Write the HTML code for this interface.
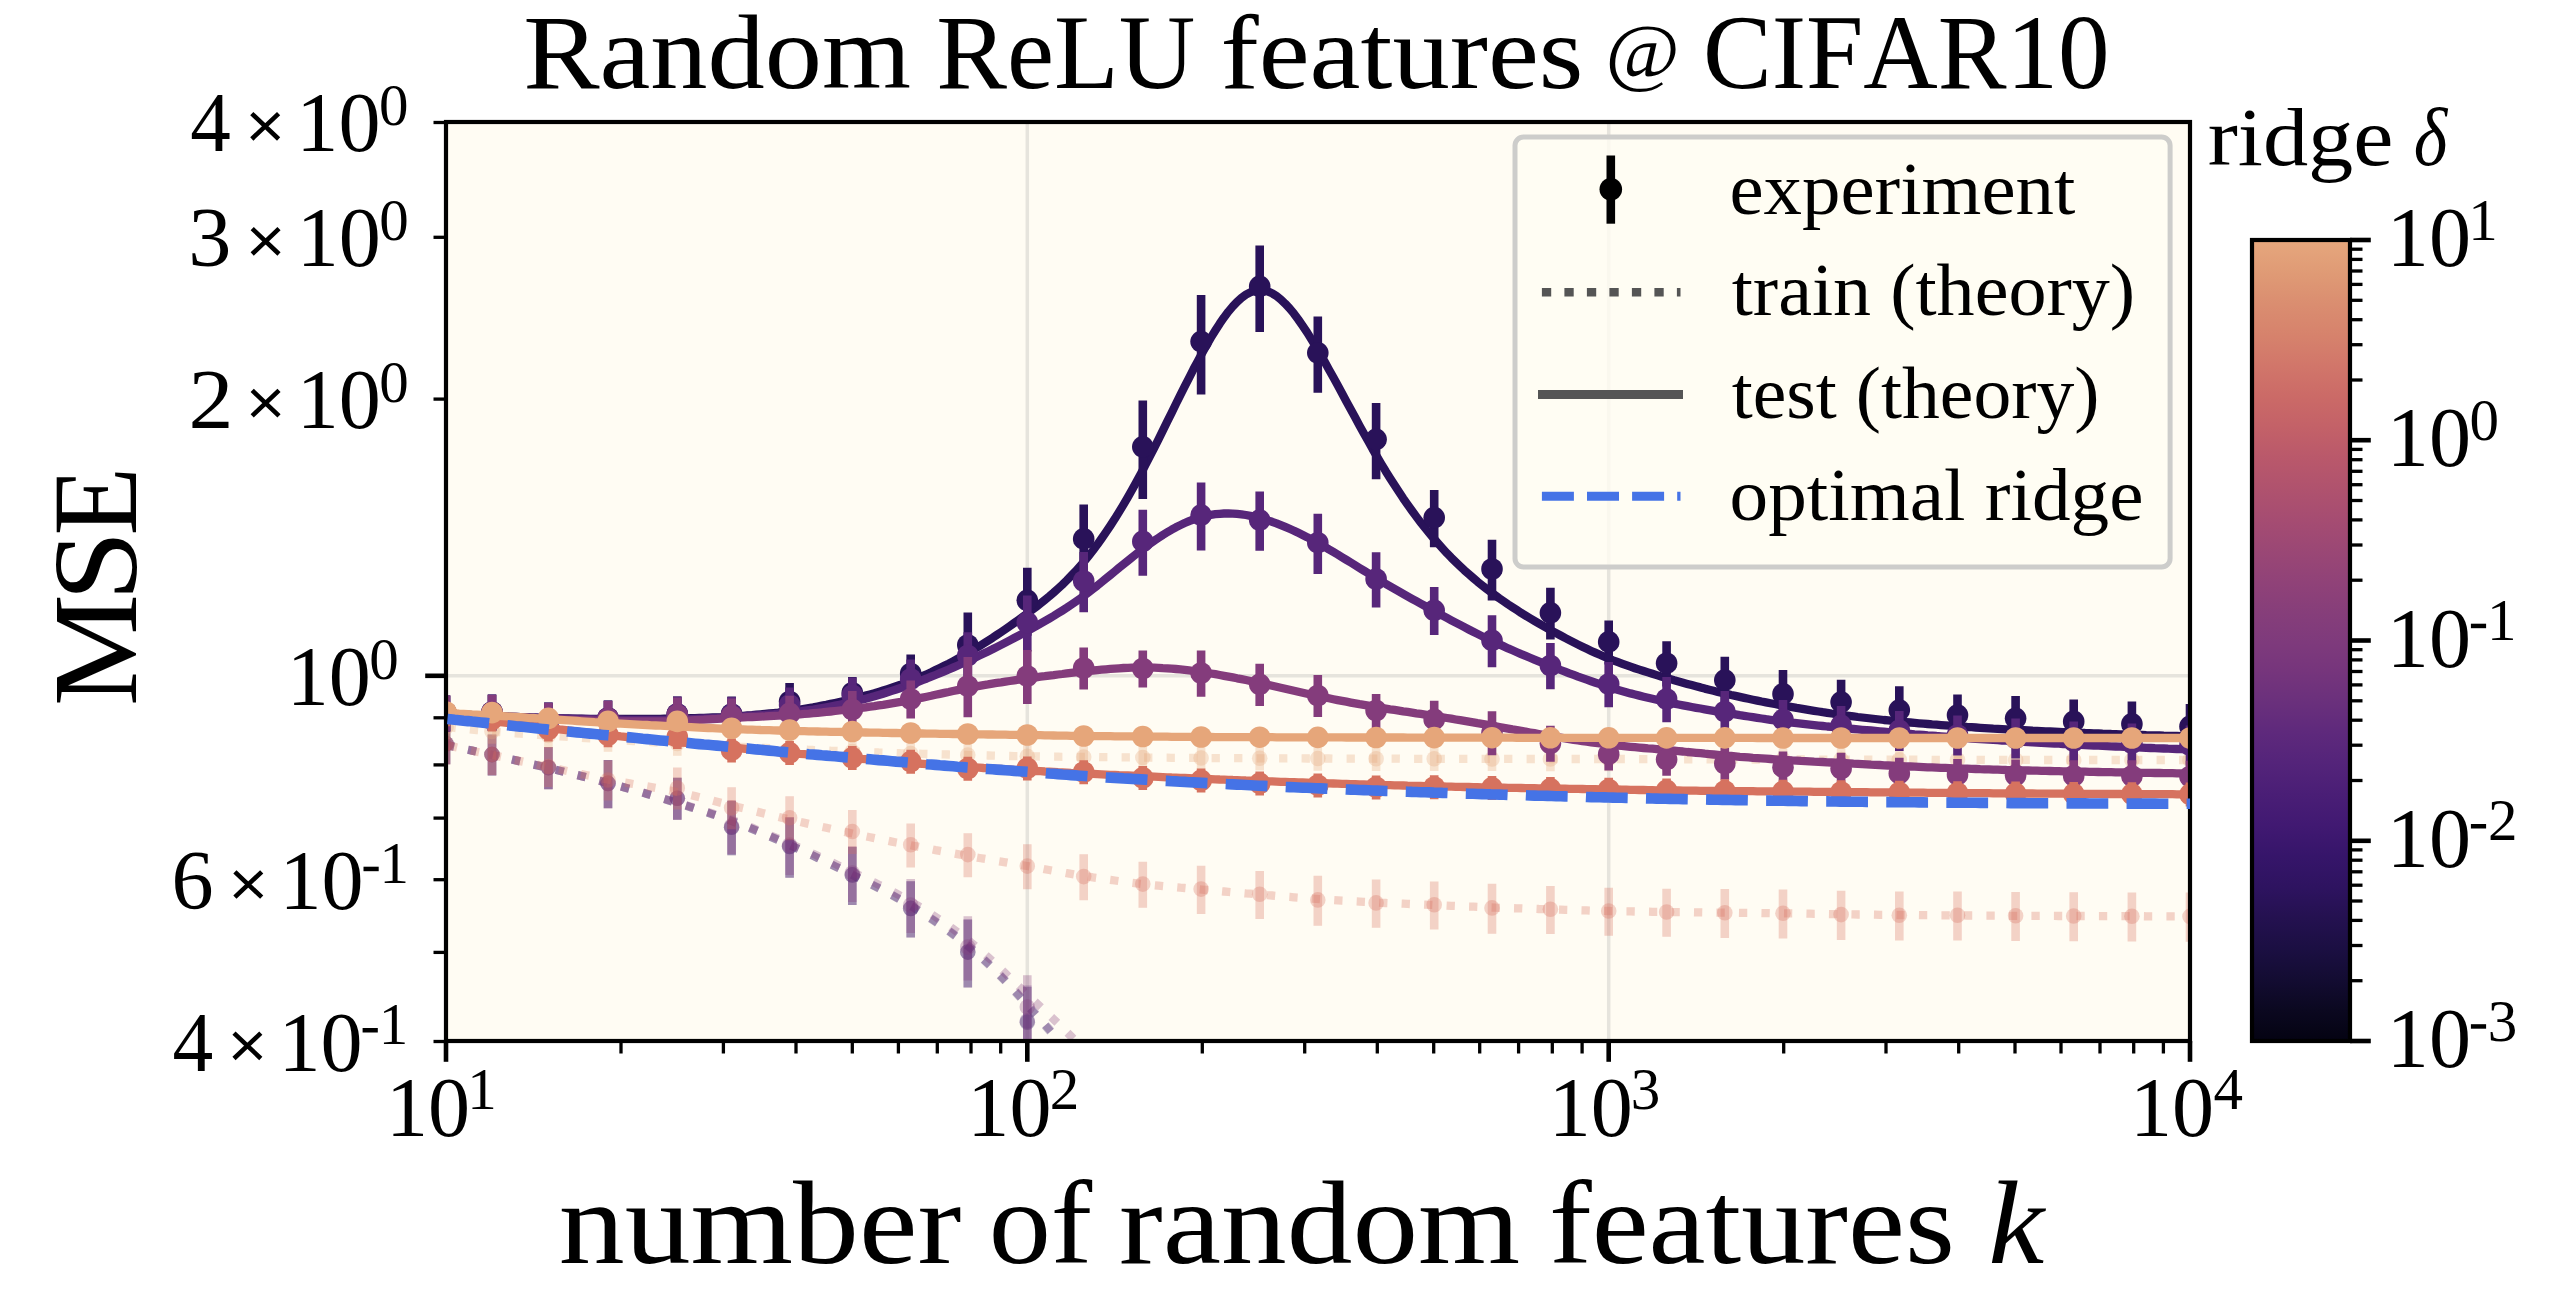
<!DOCTYPE html>
<html><head><meta charset="utf-8"><title>Random ReLU features @ CIFAR10</title>
<style>html,body{margin:0;padding:0;background:#fff}svg{display:block}</style></head>
<body>
<svg width="2554" height="1296" viewBox="0 0 2554 1296" font-family="'Liberation Serif', serif" fill="#000" style="font-kerning:none">
<defs>
<clipPath id="ax"><rect x="446.0" y="122.0" width="1744.0" height="919.0"/></clipPath>
<linearGradient id="cb" x1="0" y1="0" x2="0" y2="1">
<stop offset="0.0000" stop-color="#e6a77d"/>
<stop offset="0.0424" stop-color="#df9a75"/>
<stop offset="0.0811" stop-color="#da8d70"/>
<stop offset="0.1199" stop-color="#d6826c"/>
<stop offset="0.1573" stop-color="#d1766a"/>
<stop offset="0.1960" stop-color="#cb6a67"/>
<stop offset="0.2347" stop-color="#c36168"/>
<stop offset="0.2734" stop-color="#b9586b"/>
<stop offset="0.3121" stop-color="#af526e"/>
<stop offset="0.3508" stop-color="#a54c72"/>
<stop offset="0.3895" stop-color="#9a4775"/>
<stop offset="0.4270" stop-color="#904278"/>
<stop offset="0.4657" stop-color="#863e7a"/>
<stop offset="0.5031" stop-color="#7e3a7c"/>
<stop offset="0.5381" stop-color="#76357c"/>
<stop offset="0.5768" stop-color="#6a307c"/>
<stop offset="0.6155" stop-color="#5e297c"/>
<stop offset="0.6529" stop-color="#54247a"/>
<stop offset="0.6916" stop-color="#4a1e76"/>
<stop offset="0.7303" stop-color="#411972"/>
<stop offset="0.7690" stop-color="#36156a"/>
<stop offset="0.8077" stop-color="#2e1360"/>
<stop offset="0.8464" stop-color="#241150"/>
<stop offset="0.8851" stop-color="#1b0f42"/>
<stop offset="0.9238" stop-color="#130c32"/>
<stop offset="0.9613" stop-color="#0b0820"/>
<stop offset="1.0000" stop-color="#040312"/>
</linearGradient>
</defs>
<rect width="2554" height="1296" fill="#fff"/>
<rect x="446.0" y="122.0" width="1744.0" height="919.0" fill="#fffcf3"/>
<line x1="1027.3" x2="1027.3" y1="122.0" y2="1041.0" stroke="#e6e4dd" stroke-width="3.5"/>
<line x1="1608.7" x2="1608.7" y1="122.0" y2="1041.0" stroke="#e6e4dd" stroke-width="3.5"/>
<line x1="446.0" x2="2190.0" y1="675.8" y2="675.8" stroke="#e6e4dd" stroke-width="3.5"/>
<g clip-path="url(#ax)">
<g>
<path d="M446.0,745.0 L450.4,745.9 L454.7,746.9 L459.1,747.8 L463.5,748.7 L467.9,749.7 L472.2,750.6 L476.6,751.6 L481.0,752.5 L485.3,753.5 L489.7,754.5 L494.1,755.5 L498.5,756.4 L502.8,757.4 L507.2,758.4 L511.6,759.4 L515.9,760.4 L520.3,761.4 L524.7,762.4 L529.0,763.4 L533.4,764.5 L537.8,765.5 L542.2,766.5 L546.5,767.6 L550.9,768.6 L555.3,769.7 L559.6,770.7 L564.0,771.8 L568.4,772.9 L572.8,773.9 L577.1,775.0 L581.5,776.1 L585.9,777.2 L590.2,778.3 L594.6,779.5 L599.0,780.6 L603.4,781.7 L607.7,782.9 L612.1,784.1 L616.5,785.3 L620.8,786.5 L625.2,787.7 L629.6,788.9 L633.9,790.1 L638.3,791.4 L642.7,792.6 L647.1,793.9 L651.4,795.2 L655.8,796.5 L660.2,797.8 L664.5,799.1 L668.9,800.4 L673.3,801.8 L677.7,803.1 L682.0,804.5 L686.4,805.8 L690.8,807.2 L695.1,808.6 L699.5,810.0 L703.9,811.4 L708.3,812.8 L712.6,814.3 L717.0,815.8 L721.4,817.3 L725.7,818.9 L730.1,820.4 L734.5,822.1 L738.9,823.7 L743.2,825.4 L747.6,827.1 L752.0,828.9 L756.3,830.7 L760.7,832.5 L765.1,834.3 L769.4,836.2 L773.8,838.1 L778.2,840.0 L782.6,841.9 L786.9,843.8 L791.3,845.8 L795.7,847.7 L800.0,849.7 L804.4,851.7 L808.8,853.7 L813.2,855.8 L817.5,857.9 L821.9,860.0 L826.3,862.1 L830.6,864.2 L835.0,866.4 L839.4,868.5 L843.8,870.7 L848.1,872.9 L852.5,875.1 L856.9,877.3 L861.2,879.5 L865.6,881.7 L870.0,883.9 L874.4,886.1 L878.7,888.3 L883.1,890.6 L887.5,892.9 L891.8,895.2 L896.2,897.6 L900.6,900.1 L904.9,902.6 L909.3,905.2 L913.7,907.8 L918.1,910.5 L922.4,913.3 L926.8,916.1 L931.2,919.0 L935.5,921.9 L939.9,924.9 L944.3,928.0 L948.7,931.1 L953.0,934.4 L957.4,937.7 L961.8,941.1 L966.1,944.6 L970.5,948.2 L974.9,952.0 L979.3,955.8 L983.6,959.8 L988.0,963.9 L992.4,968.1 L996.7,972.4 L1001.1,976.9 L1005.5,981.4 L1009.8,986.0 L1014.2,990.8 L1018.6,995.6 L1023.0,1000.5 L1027.3,1005.5 L1031.7,1010.5 L1036.1,1015.4 L1040.4,1020.3 L1044.8,1025.2 L1049.2,1030.3 L1053.6,1035.5 L1057.9,1041.0 L1062.3,1046.9 L1066.7,1053.1 L1071.0,1059.7 L1075.4,1066.9 L1079.8,1074.6 L1084.2,1083.0 L1088.5,1093.0 L1092.9,1104.9 L1097.3,1118.7 L1101.6,1133.8 L1106.0,1150.2 L1110.4,1167.6 L1114.8,1185.6 L1119.1,1204.1 L1123.5,1222.7 L1127.9,1241.1 L1132.2,1259.3 L1136.6,1276.8 L1141.0,1293.3 L1145.3,1309.3 L1149.7,1326.8 L1154.1,1345.6 L1158.5,1365.3 L1162.8,1385.3 L1167.2,1405.1 L1171.6,1424.3 L1175.9,1442.4 L1180.3,1458.9 L1184.7,1473.2 L1189.1,1485.0 L1193.4,1493.7 L1197.8,1498.8 L1202.2,1500.0 L1206.5,1500.0 L1210.9,1500.0 L1215.3,1500.0 L1219.7,1500.0 L1224.0,1500.0 L1228.4,1500.0 L1232.8,1500.0 L1237.1,1500.0 L1241.5,1500.0 L1245.9,1500.0 L1250.3,1500.0 L1254.6,1500.0 L1259.0,1500.0 L1263.4,1500.0 L1267.7,1500.0 L1272.1,1500.0 L1276.5,1500.0 L1280.8,1500.0 L1285.2,1500.0 L1289.6,1500.0 L1294.0,1500.0 L1298.3,1500.0 L1302.7,1500.0 L1307.1,1500.0 L1311.4,1500.0 L1315.8,1500.0 L1320.2,1500.0 L1324.6,1500.0 L1328.9,1500.0 L1333.3,1500.0 L1337.7,1500.0 L1342.0,1500.0 L1346.4,1500.0 L1350.8,1500.0 L1355.2,1500.0 L1359.5,1500.0 L1363.9,1500.0 L1368.3,1500.0 L1372.6,1500.0 L1377.0,1500.0 L1381.4,1500.0 L1385.7,1500.0 L1390.1,1500.0 L1394.5,1500.0 L1398.9,1500.0 L1403.2,1500.0 L1407.6,1500.0 L1412.0,1500.0 L1416.3,1500.0 L1420.7,1500.0 L1425.1,1500.0 L1429.5,1500.0 L1433.8,1500.0 L1438.2,1500.0 L1442.6,1500.0 L1446.9,1500.0 L1451.3,1500.0 L1455.7,1500.0 L1460.1,1500.0 L1464.4,1500.0 L1468.8,1500.0 L1473.2,1500.0 L1477.5,1500.0 L1481.9,1500.0 L1486.3,1500.0 L1490.7,1500.0 L1495.0,1500.0 L1499.4,1500.0 L1503.8,1500.0 L1508.1,1500.0 L1512.5,1500.0 L1516.9,1500.0 L1521.2,1500.0 L1525.6,1500.0 L1530.0,1500.0 L1534.4,1500.0 L1538.7,1500.0 L1543.1,1500.0 L1547.5,1500.0 L1551.8,1500.0 L1556.2,1500.0 L1560.6,1500.0 L1565.0,1500.0 L1569.3,1500.0 L1573.7,1500.0 L1578.1,1500.0 L1582.4,1500.0 L1586.8,1500.0 L1591.2,1500.0 L1595.6,1500.0 L1599.9,1500.0 L1604.3,1500.0 L1608.7,1500.0 L1613.0,1500.0 L1617.4,1500.0 L1621.8,1500.0 L1626.2,1500.0 L1630.5,1500.0 L1634.9,1500.0 L1639.3,1500.0 L1643.6,1500.0 L1648.0,1500.0 L1652.4,1500.0 L1656.7,1500.0 L1661.1,1500.0 L1665.5,1500.0 L1669.9,1500.0 L1674.2,1500.0 L1678.6,1500.0 L1683.0,1500.0 L1687.3,1500.0 L1691.7,1500.0 L1696.1,1500.0 L1700.5,1500.0 L1704.8,1500.0 L1709.2,1500.0 L1713.6,1500.0 L1717.9,1500.0 L1722.3,1500.0 L1726.7,1500.0 L1731.1,1500.0 L1735.4,1500.0 L1739.8,1500.0 L1744.2,1500.0 L1748.5,1500.0 L1752.9,1500.0 L1757.3,1500.0 L1761.6,1500.0 L1766.0,1500.0 L1770.4,1500.0 L1774.8,1500.0 L1779.1,1500.0 L1783.5,1500.0 L1787.9,1500.0 L1792.2,1500.0 L1796.6,1500.0 L1801.0,1500.0 L1805.4,1500.0 L1809.7,1500.0 L1814.1,1500.0 L1818.5,1500.0 L1822.8,1500.0 L1827.2,1500.0 L1831.6,1500.0 L1836.0,1500.0 L1840.3,1500.0 L1844.7,1500.0 L1849.1,1500.0 L1853.4,1500.0 L1857.8,1500.0 L1862.2,1500.0 L1866.6,1500.0 L1870.9,1500.0 L1875.3,1500.0 L1879.7,1500.0 L1884.0,1500.0 L1888.4,1500.0 L1892.8,1500.0 L1897.1,1500.0 L1901.5,1500.0 L1905.9,1500.0 L1910.3,1500.0 L1914.6,1500.0 L1919.0,1500.0 L1923.4,1500.0 L1927.7,1500.0 L1932.1,1500.0 L1936.5,1500.0 L1940.9,1500.0 L1945.2,1500.0 L1949.6,1500.0 L1954.0,1500.0 L1958.3,1500.0 L1962.7,1500.0 L1967.1,1500.0 L1971.5,1500.0 L1975.8,1500.0 L1980.2,1500.0 L1984.6,1500.0 L1988.9,1500.0 L1993.3,1500.0 L1997.7,1500.0 L2002.1,1500.0 L2006.4,1500.0 L2010.8,1500.0 L2015.2,1500.0 L2019.5,1500.0 L2023.9,1500.0 L2028.3,1500.0 L2032.6,1500.0 L2037.0,1500.0 L2041.4,1500.0 L2045.8,1500.0 L2050.1,1500.0 L2054.5,1500.0 L2058.9,1500.0 L2063.2,1500.0 L2067.6,1500.0 L2072.0,1500.0 L2076.4,1500.0 L2080.7,1500.0 L2085.1,1500.0 L2089.5,1500.0 L2093.8,1500.0 L2098.2,1500.0 L2102.6,1500.0 L2107.0,1500.0 L2111.3,1500.0 L2115.7,1500.0 L2120.1,1500.0 L2124.4,1500.0 L2128.8,1500.0 L2133.2,1500.0 L2137.5,1500.0 L2141.9,1500.0 L2146.3,1500.0 L2150.7,1500.0 L2155.0,1500.0 L2159.4,1500.0 L2163.8,1500.0 L2168.1,1500.0 L2172.5,1500.0 L2176.9,1500.0 L2181.3,1500.0 L2185.6,1500.0 L2190.0,1500.0" fill="none" stroke="#291259" stroke-width="8.3" stroke-dasharray="8.3 14.2" stroke-dashoffset="0" stroke-opacity="0.3" stroke-linejoin="round"/>
<path d="M446.0,724.3V764.3 M492.0,734.6V775.6 M548.4,747.1V789.2 M608.0,760.1V808.2 M677.3,777.7V819.8 M731.6,801.1V855.2 M789.6,817.6V877.7 M852.3,846.9V905.0 M910.7,881.3V937.4 M967.8,919.5V987.6 M1027.3,986.9V1061.1 M1083.7,1091.9V1172.1 M1142.8,1261.9V1342.1 M1201.1,1461.9V1542.1 M1259.7,1461.9V1542.1 M1317.8,1461.9V1542.1 M1376.1,1461.9V1542.1 M1434.2,1461.9V1542.1 M1492.0,1461.9V1542.1 M1550.4,1461.9V1542.1 M1608.7,1461.9V1542.1 M1666.6,1461.9V1542.1 M1724.8,1461.9V1542.1 M1783.0,1461.9V1542.1 M1841.1,1461.9V1542.1 M1899.3,1461.9V1542.1 M1957.5,1461.9V1542.1 M2015.6,1461.9V1542.1 M2073.7,1461.9V1542.1 M2131.9,1461.9V1542.1 M2190.0,1461.9V1542.1" fill="none" stroke="#291259" stroke-width="8.6" stroke-opacity="0.3"/>
<circle cx="446.0" cy="743.8" r="7.8" fill="#291259" fill-opacity="0.3"/>
<circle cx="492.0" cy="754.6" r="7.8" fill="#291259" fill-opacity="0.3"/>
<circle cx="548.4" cy="767.6" r="7.8" fill="#291259" fill-opacity="0.3"/>
<circle cx="608.0" cy="783.4" r="7.8" fill="#291259" fill-opacity="0.3"/>
<circle cx="677.3" cy="798.2" r="7.8" fill="#291259" fill-opacity="0.3"/>
<circle cx="731.6" cy="827.2" r="7.8" fill="#291259" fill-opacity="0.3"/>
<circle cx="789.6" cy="846.5" r="7.8" fill="#291259" fill-opacity="0.3"/>
<circle cx="852.3" cy="874.9" r="7.8" fill="#291259" fill-opacity="0.3"/>
<circle cx="910.7" cy="908.4" r="7.8" fill="#291259" fill-opacity="0.3"/>
<circle cx="967.8" cy="952.1" r="7.8" fill="#291259" fill-opacity="0.3"/>
<circle cx="1027.3" cy="1022.3" r="7.8" fill="#291259" fill-opacity="0.3"/>
<circle cx="1083.7" cy="1130.0" r="7.8" fill="#291259" fill-opacity="0.3"/>
<circle cx="1142.8" cy="1300.0" r="7.8" fill="#291259" fill-opacity="0.3"/>
<circle cx="1201.1" cy="1500.0" r="7.8" fill="#291259" fill-opacity="0.3"/>
<circle cx="1259.7" cy="1500.0" r="7.8" fill="#291259" fill-opacity="0.3"/>
<circle cx="1317.8" cy="1500.0" r="7.8" fill="#291259" fill-opacity="0.3"/>
<circle cx="1376.1" cy="1500.0" r="7.8" fill="#291259" fill-opacity="0.3"/>
<circle cx="1434.2" cy="1500.0" r="7.8" fill="#291259" fill-opacity="0.3"/>
<circle cx="1492.0" cy="1500.0" r="7.8" fill="#291259" fill-opacity="0.3"/>
<circle cx="1550.4" cy="1500.0" r="7.8" fill="#291259" fill-opacity="0.3"/>
<circle cx="1608.7" cy="1500.0" r="7.8" fill="#291259" fill-opacity="0.3"/>
<circle cx="1666.6" cy="1500.0" r="7.8" fill="#291259" fill-opacity="0.3"/>
<circle cx="1724.8" cy="1500.0" r="7.8" fill="#291259" fill-opacity="0.3"/>
<circle cx="1783.0" cy="1500.0" r="7.8" fill="#291259" fill-opacity="0.3"/>
<circle cx="1841.1" cy="1500.0" r="7.8" fill="#291259" fill-opacity="0.3"/>
<circle cx="1899.3" cy="1500.0" r="7.8" fill="#291259" fill-opacity="0.3"/>
<circle cx="1957.5" cy="1500.0" r="7.8" fill="#291259" fill-opacity="0.3"/>
<circle cx="2015.6" cy="1500.0" r="7.8" fill="#291259" fill-opacity="0.3"/>
<circle cx="2073.7" cy="1500.0" r="7.8" fill="#291259" fill-opacity="0.3"/>
<circle cx="2131.9" cy="1500.0" r="7.8" fill="#291259" fill-opacity="0.3"/>
<circle cx="2190.0" cy="1500.0" r="7.8" fill="#291259" fill-opacity="0.3"/>
</g>
<g>
<path d="M446.0,745.0 L450.4,745.9 L454.7,746.9 L459.1,747.8 L463.5,748.7 L467.9,749.7 L472.2,750.6 L476.6,751.6 L481.0,752.5 L485.3,753.5 L489.7,754.5 L494.1,755.5 L498.5,756.4 L502.8,757.4 L507.2,758.4 L511.6,759.4 L515.9,760.4 L520.3,761.4 L524.7,762.4 L529.0,763.4 L533.4,764.5 L537.8,765.5 L542.2,766.5 L546.5,767.6 L550.9,768.6 L555.3,769.7 L559.6,770.7 L564.0,771.8 L568.4,772.9 L572.8,773.9 L577.1,775.0 L581.5,776.1 L585.9,777.2 L590.2,778.3 L594.6,779.5 L599.0,780.6 L603.4,781.7 L607.7,782.9 L612.1,784.1 L616.5,785.3 L620.8,786.5 L625.2,787.7 L629.6,788.9 L633.9,790.1 L638.3,791.4 L642.7,792.6 L647.1,793.9 L651.4,795.2 L655.8,796.5 L660.2,797.8 L664.5,799.1 L668.9,800.4 L673.3,801.8 L677.7,803.1 L682.0,804.5 L686.4,805.8 L690.8,807.2 L695.1,808.6 L699.5,810.0 L703.9,811.4 L708.3,812.8 L712.6,814.3 L717.0,815.8 L721.4,817.3 L725.7,818.9 L730.1,820.4 L734.5,822.1 L738.9,823.7 L743.2,825.4 L747.6,827.1 L752.0,828.9 L756.3,830.7 L760.7,832.5 L765.1,834.3 L769.4,836.2 L773.8,838.1 L778.2,840.0 L782.6,841.9 L786.9,843.8 L791.3,845.8 L795.7,847.7 L800.0,849.7 L804.4,851.7 L808.8,853.7 L813.2,855.7 L817.5,857.8 L821.9,859.8 L826.3,861.9 L830.6,864.0 L835.0,866.2 L839.4,868.3 L843.8,870.4 L848.1,872.6 L852.5,874.8 L856.9,877.0 L861.2,879.1 L865.6,881.3 L870.0,883.5 L874.4,885.7 L878.7,887.9 L883.1,890.2 L887.5,892.5 L891.8,894.8 L896.2,897.2 L900.6,899.6 L904.9,902.1 L909.3,904.7 L913.7,907.3 L918.1,910.0 L922.4,912.7 L926.8,915.5 L931.2,918.4 L935.5,921.3 L939.9,924.3 L944.3,927.4 L948.7,930.5 L953.0,933.7 L957.4,937.0 L961.8,940.4 L966.1,943.9 L970.5,947.5 L974.9,951.2 L979.3,955.1 L983.6,959.1 L988.0,963.1 L992.4,967.3 L996.7,971.6 L1001.1,976.1 L1005.5,980.6 L1009.8,985.2 L1014.2,989.9 L1018.6,994.7 L1023.0,999.5 L1027.3,1004.5 L1031.7,1009.4 L1036.1,1014.3 L1040.4,1019.2 L1044.8,1024.1 L1049.2,1029.1 L1053.6,1034.3 L1057.9,1039.7 L1062.3,1045.4 L1066.7,1051.6 L1071.0,1058.1 L1075.4,1065.1 L1079.8,1072.7 L1084.2,1081.0 L1088.5,1090.6 L1092.9,1102.1 L1097.3,1115.2 L1101.6,1129.7 L1106.0,1145.2 L1110.4,1161.7 L1114.8,1178.9 L1119.1,1196.5 L1123.5,1214.3 L1127.9,1232.1 L1132.2,1249.7 L1136.6,1266.9 L1141.0,1283.3 L1145.3,1299.4 L1149.7,1317.3 L1154.1,1336.8 L1158.5,1357.2 L1162.8,1378.2 L1167.2,1399.1 L1171.6,1419.4 L1175.9,1438.6 L1180.3,1456.1 L1184.7,1471.4 L1189.1,1483.9 L1193.4,1493.2 L1197.8,1498.7 L1202.2,1500.0 L1206.5,1500.0 L1210.9,1500.0 L1215.3,1500.0 L1219.7,1500.0 L1224.0,1500.0 L1228.4,1500.0 L1232.8,1500.0 L1237.1,1500.0 L1241.5,1500.0 L1245.9,1500.0 L1250.3,1500.0 L1254.6,1500.0 L1259.0,1500.0 L1263.4,1500.0 L1267.7,1500.0 L1272.1,1500.0 L1276.5,1500.0 L1280.8,1500.0 L1285.2,1500.0 L1289.6,1500.0 L1294.0,1500.0 L1298.3,1500.0 L1302.7,1500.0 L1307.1,1500.0 L1311.4,1500.0 L1315.8,1500.0 L1320.2,1500.0 L1324.6,1500.0 L1328.9,1500.0 L1333.3,1500.0 L1337.7,1500.0 L1342.0,1500.0 L1346.4,1500.0 L1350.8,1500.0 L1355.2,1500.0 L1359.5,1500.0 L1363.9,1500.0 L1368.3,1500.0 L1372.6,1500.0 L1377.0,1500.0 L1381.4,1500.0 L1385.7,1500.0 L1390.1,1500.0 L1394.5,1500.0 L1398.9,1500.0 L1403.2,1500.0 L1407.6,1500.0 L1412.0,1500.0 L1416.3,1500.0 L1420.7,1500.0 L1425.1,1500.0 L1429.5,1500.0 L1433.8,1500.0 L1438.2,1500.0 L1442.6,1500.0 L1446.9,1500.0 L1451.3,1500.0 L1455.7,1500.0 L1460.1,1500.0 L1464.4,1500.0 L1468.8,1500.0 L1473.2,1500.0 L1477.5,1500.0 L1481.9,1500.0 L1486.3,1500.0 L1490.7,1500.0 L1495.0,1500.0 L1499.4,1500.0 L1503.8,1500.0 L1508.1,1500.0 L1512.5,1500.0 L1516.9,1500.0 L1521.2,1500.0 L1525.6,1500.0 L1530.0,1500.0 L1534.4,1500.0 L1538.7,1500.0 L1543.1,1500.0 L1547.5,1500.0 L1551.8,1500.0 L1556.2,1500.0 L1560.6,1500.0 L1565.0,1500.0 L1569.3,1500.0 L1573.7,1500.0 L1578.1,1500.0 L1582.4,1500.0 L1586.8,1500.0 L1591.2,1500.0 L1595.6,1500.0 L1599.9,1500.0 L1604.3,1500.0 L1608.7,1500.0 L1613.0,1500.0 L1617.4,1500.0 L1621.8,1500.0 L1626.2,1500.0 L1630.5,1500.0 L1634.9,1500.0 L1639.3,1500.0 L1643.6,1500.0 L1648.0,1500.0 L1652.4,1500.0 L1656.7,1500.0 L1661.1,1500.0 L1665.5,1500.0 L1669.9,1500.0 L1674.2,1500.0 L1678.6,1500.0 L1683.0,1500.0 L1687.3,1500.0 L1691.7,1500.0 L1696.1,1500.0 L1700.5,1500.0 L1704.8,1500.0 L1709.2,1500.0 L1713.6,1500.0 L1717.9,1500.0 L1722.3,1500.0 L1726.7,1500.0 L1731.1,1500.0 L1735.4,1500.0 L1739.8,1500.0 L1744.2,1500.0 L1748.5,1500.0 L1752.9,1500.0 L1757.3,1500.0 L1761.6,1500.0 L1766.0,1500.0 L1770.4,1500.0 L1774.8,1500.0 L1779.1,1500.0 L1783.5,1500.0 L1787.9,1500.0 L1792.2,1500.0 L1796.6,1500.0 L1801.0,1500.0 L1805.4,1500.0 L1809.7,1500.0 L1814.1,1500.0 L1818.5,1500.0 L1822.8,1500.0 L1827.2,1500.0 L1831.6,1500.0 L1836.0,1500.0 L1840.3,1500.0 L1844.7,1500.0 L1849.1,1500.0 L1853.4,1500.0 L1857.8,1500.0 L1862.2,1500.0 L1866.6,1500.0 L1870.9,1500.0 L1875.3,1500.0 L1879.7,1500.0 L1884.0,1500.0 L1888.4,1500.0 L1892.8,1500.0 L1897.1,1500.0 L1901.5,1500.0 L1905.9,1500.0 L1910.3,1500.0 L1914.6,1500.0 L1919.0,1500.0 L1923.4,1500.0 L1927.7,1500.0 L1932.1,1500.0 L1936.5,1500.0 L1940.9,1500.0 L1945.2,1500.0 L1949.6,1500.0 L1954.0,1500.0 L1958.3,1500.0 L1962.7,1500.0 L1967.1,1500.0 L1971.5,1500.0 L1975.8,1500.0 L1980.2,1500.0 L1984.6,1500.0 L1988.9,1500.0 L1993.3,1500.0 L1997.7,1500.0 L2002.1,1500.0 L2006.4,1500.0 L2010.8,1500.0 L2015.2,1500.0 L2019.5,1500.0 L2023.9,1500.0 L2028.3,1500.0 L2032.6,1500.0 L2037.0,1500.0 L2041.4,1500.0 L2045.8,1500.0 L2050.1,1500.0 L2054.5,1500.0 L2058.9,1500.0 L2063.2,1500.0 L2067.6,1500.0 L2072.0,1500.0 L2076.4,1500.0 L2080.7,1500.0 L2085.1,1500.0 L2089.5,1500.0 L2093.8,1500.0 L2098.2,1500.0 L2102.6,1500.0 L2107.0,1500.0 L2111.3,1500.0 L2115.7,1500.0 L2120.1,1500.0 L2124.4,1500.0 L2128.8,1500.0 L2133.2,1500.0 L2137.5,1500.0 L2141.9,1500.0 L2146.3,1500.0 L2150.7,1500.0 L2155.0,1500.0 L2159.4,1500.0 L2163.8,1500.0 L2168.1,1500.0 L2172.5,1500.0 L2176.9,1500.0 L2181.3,1500.0 L2185.6,1500.0 L2190.0,1500.0" fill="none" stroke="#57267a" stroke-width="8.3" stroke-dasharray="8.3 14.2" stroke-dashoffset="0" stroke-opacity="0.3" stroke-linejoin="round"/>
<path d="M446.0,724.3V764.3 M492.0,734.6V775.6 M548.4,747.1V789.2 M608.0,760.1V808.2 M677.3,777.7V819.8 M731.6,801.1V855.2 M789.6,817.6V877.7 M852.3,846.9V905.0 M910.7,881.3V937.4 M967.8,919.5V987.6 M1027.3,985.6V1059.8 M1083.7,1076.9V1157.1 M1142.8,1231.9V1312.1 M1201.1,1461.9V1542.1 M1259.7,1461.9V1542.1 M1317.8,1461.9V1542.1 M1376.1,1461.9V1542.1 M1434.2,1461.9V1542.1 M1492.0,1461.9V1542.1 M1550.4,1461.9V1542.1 M1608.7,1461.9V1542.1 M1666.6,1461.9V1542.1 M1724.8,1461.9V1542.1 M1783.0,1461.9V1542.1 M1841.1,1461.9V1542.1 M1899.3,1461.9V1542.1 M1957.5,1461.9V1542.1 M2015.6,1461.9V1542.1 M2073.7,1461.9V1542.1 M2131.9,1461.9V1542.1 M2190.0,1461.9V1542.1" fill="none" stroke="#57267a" stroke-width="8.6" stroke-opacity="0.3"/>
<circle cx="446.0" cy="743.8" r="7.8" fill="#57267a" fill-opacity="0.3"/>
<circle cx="492.0" cy="754.6" r="7.8" fill="#57267a" fill-opacity="0.3"/>
<circle cx="548.4" cy="767.6" r="7.8" fill="#57267a" fill-opacity="0.3"/>
<circle cx="608.0" cy="783.4" r="7.8" fill="#57267a" fill-opacity="0.3"/>
<circle cx="677.3" cy="798.2" r="7.8" fill="#57267a" fill-opacity="0.3"/>
<circle cx="731.6" cy="827.2" r="7.8" fill="#57267a" fill-opacity="0.3"/>
<circle cx="789.6" cy="846.5" r="7.8" fill="#57267a" fill-opacity="0.3"/>
<circle cx="852.3" cy="874.9" r="7.8" fill="#57267a" fill-opacity="0.3"/>
<circle cx="910.7" cy="908.4" r="7.8" fill="#57267a" fill-opacity="0.3"/>
<circle cx="967.8" cy="952.1" r="7.8" fill="#57267a" fill-opacity="0.3"/>
<circle cx="1027.3" cy="1021.0" r="7.8" fill="#57267a" fill-opacity="0.3"/>
<circle cx="1083.7" cy="1115.0" r="7.8" fill="#57267a" fill-opacity="0.3"/>
<circle cx="1142.8" cy="1270.0" r="7.8" fill="#57267a" fill-opacity="0.3"/>
<circle cx="1201.1" cy="1500.0" r="7.8" fill="#57267a" fill-opacity="0.3"/>
<circle cx="1259.7" cy="1500.0" r="7.8" fill="#57267a" fill-opacity="0.3"/>
<circle cx="1317.8" cy="1500.0" r="7.8" fill="#57267a" fill-opacity="0.3"/>
<circle cx="1376.1" cy="1500.0" r="7.8" fill="#57267a" fill-opacity="0.3"/>
<circle cx="1434.2" cy="1500.0" r="7.8" fill="#57267a" fill-opacity="0.3"/>
<circle cx="1492.0" cy="1500.0" r="7.8" fill="#57267a" fill-opacity="0.3"/>
<circle cx="1550.4" cy="1500.0" r="7.8" fill="#57267a" fill-opacity="0.3"/>
<circle cx="1608.7" cy="1500.0" r="7.8" fill="#57267a" fill-opacity="0.3"/>
<circle cx="1666.6" cy="1500.0" r="7.8" fill="#57267a" fill-opacity="0.3"/>
<circle cx="1724.8" cy="1500.0" r="7.8" fill="#57267a" fill-opacity="0.3"/>
<circle cx="1783.0" cy="1500.0" r="7.8" fill="#57267a" fill-opacity="0.3"/>
<circle cx="1841.1" cy="1500.0" r="7.8" fill="#57267a" fill-opacity="0.3"/>
<circle cx="1899.3" cy="1500.0" r="7.8" fill="#57267a" fill-opacity="0.3"/>
<circle cx="1957.5" cy="1500.0" r="7.8" fill="#57267a" fill-opacity="0.3"/>
<circle cx="2015.6" cy="1500.0" r="7.8" fill="#57267a" fill-opacity="0.3"/>
<circle cx="2073.7" cy="1500.0" r="7.8" fill="#57267a" fill-opacity="0.3"/>
<circle cx="2131.9" cy="1500.0" r="7.8" fill="#57267a" fill-opacity="0.3"/>
<circle cx="2190.0" cy="1500.0" r="7.8" fill="#57267a" fill-opacity="0.3"/>
</g>
<g>
<path d="M446.0,745.0 L450.4,745.9 L454.7,746.9 L459.1,747.8 L463.5,748.7 L467.9,749.7 L472.2,750.6 L476.6,751.6 L481.0,752.5 L485.3,753.5 L489.7,754.5 L494.1,755.5 L498.5,756.4 L502.8,757.4 L507.2,758.4 L511.6,759.4 L515.9,760.4 L520.3,761.4 L524.7,762.4 L529.0,763.4 L533.4,764.5 L537.8,765.5 L542.2,766.5 L546.5,767.6 L550.9,768.6 L555.3,769.7 L559.6,770.7 L564.0,771.8 L568.4,772.9 L572.8,774.0 L577.1,775.0 L581.5,776.1 L585.9,777.2 L590.2,778.4 L594.6,779.5 L599.0,780.6 L603.4,781.8 L607.7,782.9 L612.1,784.1 L616.5,785.2 L620.8,786.4 L625.2,787.6 L629.6,788.8 L633.9,790.0 L638.3,791.2 L642.7,792.4 L647.1,793.7 L651.4,794.9 L655.8,796.2 L660.2,797.4 L664.5,798.7 L668.9,800.0 L673.3,801.3 L677.7,802.6 L682.0,803.9 L686.4,805.2 L690.8,806.6 L695.1,807.9 L699.5,809.3 L703.9,810.7 L708.3,812.1 L712.6,813.5 L717.0,814.9 L721.4,816.4 L725.7,817.9 L730.1,819.5 L734.5,821.0 L738.9,822.6 L743.2,824.3 L747.6,826.0 L752.0,827.7 L756.3,829.5 L760.7,831.3 L765.1,833.1 L769.4,834.9 L773.8,836.8 L778.2,838.6 L782.6,840.5 L786.9,842.4 L791.3,844.2 L795.7,846.1 L800.0,848.0 L804.4,849.9 L808.8,851.9 L813.2,853.8 L817.5,855.8 L821.9,857.8 L826.3,859.8 L830.6,861.8 L835.0,863.8 L839.4,865.9 L843.8,867.9 L848.1,870.0 L852.5,872.1 L856.9,874.2 L861.2,876.2 L865.6,878.3 L870.0,880.4 L874.4,882.5 L878.7,884.7 L883.1,886.8 L887.5,889.0 L891.8,891.2 L896.2,893.5 L900.6,895.9 L904.9,898.2 L909.3,900.7 L913.7,903.3 L918.1,905.9 L922.4,908.5 L926.8,911.2 L931.2,914.0 L935.5,916.9 L939.9,919.8 L944.3,922.8 L948.7,925.8 L953.0,928.9 L957.4,932.1 L961.8,935.4 L966.1,938.7 L970.5,942.1 L974.9,945.7 L979.3,949.4 L983.6,953.2 L988.0,957.1 L992.4,961.1 L996.7,965.2 L1001.1,969.4 L1005.5,973.6 L1009.8,977.8 L1014.2,982.0 L1018.6,986.2 L1023.0,990.4 L1027.3,994.5 L1031.7,998.6 L1036.1,1002.7 L1040.4,1006.8 L1044.8,1010.9 L1049.2,1015.1 L1053.6,1019.2 L1057.9,1023.4 L1062.3,1027.6 L1066.7,1031.9 L1071.0,1036.2 L1075.4,1040.6 L1079.8,1045.0 L1084.2,1049.5 L1088.5,1053.8 L1092.9,1057.8 L1097.3,1061.6 L1101.6,1065.3 L1106.0,1069.0 L1110.4,1072.9 L1114.8,1076.9 L1119.1,1081.3 L1123.5,1086.1 L1127.9,1091.4 L1132.2,1097.4 L1136.6,1104.1 L1141.0,1111.6 L1145.3,1121.5 L1149.7,1140.2 L1154.1,1166.7 L1158.5,1199.4 L1162.8,1236.6 L1167.2,1276.7 L1171.6,1317.9 L1175.9,1358.7 L1180.3,1397.3 L1184.7,1432.1 L1189.1,1461.4 L1193.4,1483.5 L1197.8,1496.8 L1202.2,1500.0 L1206.5,1500.0 L1210.9,1500.0 L1215.3,1500.0 L1219.7,1500.0 L1224.0,1500.0 L1228.4,1500.0 L1232.8,1500.0 L1237.1,1500.0 L1241.5,1500.0 L1245.9,1500.0 L1250.3,1500.0 L1254.6,1500.0 L1259.0,1500.0 L1263.4,1500.0 L1267.7,1500.0 L1272.1,1500.0 L1276.5,1500.0 L1280.8,1500.0 L1285.2,1500.0 L1289.6,1500.0 L1294.0,1500.0 L1298.3,1500.0 L1302.7,1500.0 L1307.1,1500.0 L1311.4,1500.0 L1315.8,1500.0 L1320.2,1500.0 L1324.6,1500.0 L1328.9,1500.0 L1333.3,1500.0 L1337.7,1500.0 L1342.0,1500.0 L1346.4,1500.0 L1350.8,1500.0 L1355.2,1500.0 L1359.5,1500.0 L1363.9,1500.0 L1368.3,1500.0 L1372.6,1500.0 L1377.0,1500.0 L1381.4,1500.0 L1385.7,1500.0 L1390.1,1500.0 L1394.5,1500.0 L1398.9,1500.0 L1403.2,1500.0 L1407.6,1500.0 L1412.0,1500.0 L1416.3,1500.0 L1420.7,1500.0 L1425.1,1500.0 L1429.5,1500.0 L1433.8,1500.0 L1438.2,1500.0 L1442.6,1500.0 L1446.9,1500.0 L1451.3,1500.0 L1455.7,1500.0 L1460.1,1500.0 L1464.4,1500.0 L1468.8,1500.0 L1473.2,1500.0 L1477.5,1500.0 L1481.9,1500.0 L1486.3,1500.0 L1490.7,1500.0 L1495.0,1500.0 L1499.4,1500.0 L1503.8,1500.0 L1508.1,1500.0 L1512.5,1500.0 L1516.9,1500.0 L1521.2,1500.0 L1525.6,1500.0 L1530.0,1500.0 L1534.4,1500.0 L1538.7,1500.0 L1543.1,1500.0 L1547.5,1500.0 L1551.8,1500.0 L1556.2,1500.0 L1560.6,1500.0 L1565.0,1500.0 L1569.3,1500.0 L1573.7,1500.0 L1578.1,1500.0 L1582.4,1500.0 L1586.8,1500.0 L1591.2,1500.0 L1595.6,1500.0 L1599.9,1500.0 L1604.3,1500.0 L1608.7,1500.0 L1613.0,1500.0 L1617.4,1500.0 L1621.8,1500.0 L1626.2,1500.0 L1630.5,1500.0 L1634.9,1500.0 L1639.3,1500.0 L1643.6,1500.0 L1648.0,1500.0 L1652.4,1500.0 L1656.7,1500.0 L1661.1,1500.0 L1665.5,1500.0 L1669.9,1500.0 L1674.2,1500.0 L1678.6,1500.0 L1683.0,1500.0 L1687.3,1500.0 L1691.7,1500.0 L1696.1,1500.0 L1700.5,1500.0 L1704.8,1500.0 L1709.2,1500.0 L1713.6,1500.0 L1717.9,1500.0 L1722.3,1500.0 L1726.7,1500.0 L1731.1,1500.0 L1735.4,1500.0 L1739.8,1500.0 L1744.2,1500.0 L1748.5,1500.0 L1752.9,1500.0 L1757.3,1500.0 L1761.6,1500.0 L1766.0,1500.0 L1770.4,1500.0 L1774.8,1500.0 L1779.1,1500.0 L1783.5,1500.0 L1787.9,1500.0 L1792.2,1500.0 L1796.6,1500.0 L1801.0,1500.0 L1805.4,1500.0 L1809.7,1500.0 L1814.1,1500.0 L1818.5,1500.0 L1822.8,1500.0 L1827.2,1500.0 L1831.6,1500.0 L1836.0,1500.0 L1840.3,1500.0 L1844.7,1500.0 L1849.1,1500.0 L1853.4,1500.0 L1857.8,1500.0 L1862.2,1500.0 L1866.6,1500.0 L1870.9,1500.0 L1875.3,1500.0 L1879.7,1500.0 L1884.0,1500.0 L1888.4,1500.0 L1892.8,1500.0 L1897.1,1500.0 L1901.5,1500.0 L1905.9,1500.0 L1910.3,1500.0 L1914.6,1500.0 L1919.0,1500.0 L1923.4,1500.0 L1927.7,1500.0 L1932.1,1500.0 L1936.5,1500.0 L1940.9,1500.0 L1945.2,1500.0 L1949.6,1500.0 L1954.0,1500.0 L1958.3,1500.0 L1962.7,1500.0 L1967.1,1500.0 L1971.5,1500.0 L1975.8,1500.0 L1980.2,1500.0 L1984.6,1500.0 L1988.9,1500.0 L1993.3,1500.0 L1997.7,1500.0 L2002.1,1500.0 L2006.4,1500.0 L2010.8,1500.0 L2015.2,1500.0 L2019.5,1500.0 L2023.9,1500.0 L2028.3,1500.0 L2032.6,1500.0 L2037.0,1500.0 L2041.4,1500.0 L2045.8,1500.0 L2050.1,1500.0 L2054.5,1500.0 L2058.9,1500.0 L2063.2,1500.0 L2067.6,1500.0 L2072.0,1500.0 L2076.4,1500.0 L2080.7,1500.0 L2085.1,1500.0 L2089.5,1500.0 L2093.8,1500.0 L2098.2,1500.0 L2102.6,1500.0 L2107.0,1500.0 L2111.3,1500.0 L2115.7,1500.0 L2120.1,1500.0 L2124.4,1500.0 L2128.8,1500.0 L2133.2,1500.0 L2137.5,1500.0 L2141.9,1500.0 L2146.3,1500.0 L2150.7,1500.0 L2155.0,1500.0 L2159.4,1500.0 L2163.8,1500.0 L2168.1,1500.0 L2172.5,1500.0 L2176.9,1500.0 L2181.3,1500.0 L2185.6,1500.0 L2190.0,1500.0" fill="none" stroke="#843c7c" stroke-width="8.3" stroke-dasharray="8.3 14.2" stroke-dashoffset="0" stroke-opacity="0.3" stroke-linejoin="round"/>
<path d="M446.0,724.3V764.3 M492.0,734.6V775.6 M548.4,747.1V789.2 M608.0,760.1V808.2 M677.3,777.7V819.8 M731.6,799.9V854.0 M789.6,817.0V875.1 M852.3,845.9V902.0 M910.7,878.9V933.0 M967.8,916.2V980.4 M1027.3,975.3V1041.4 M1083.7,1051.5V1121.6 M1142.8,1166.5V1236.6 M1201.1,1466.5V1536.6 M1259.7,1466.5V1536.6 M1317.8,1466.5V1536.6 M1376.1,1466.5V1536.6 M1434.2,1466.5V1536.6 M1492.0,1466.5V1536.6 M1550.4,1466.5V1536.6 M1608.7,1466.5V1536.6 M1666.6,1466.5V1536.6 M1724.8,1466.5V1536.6 M1783.0,1466.5V1536.6 M1841.1,1466.5V1536.6 M1899.3,1466.5V1536.6 M1957.5,1466.5V1536.6 M2015.6,1466.5V1536.6 M2073.7,1466.5V1536.6 M2131.9,1466.5V1536.6 M2190.0,1466.5V1536.6" fill="none" stroke="#843c7c" stroke-width="8.6" stroke-opacity="0.3"/>
<circle cx="446.0" cy="743.8" r="7.8" fill="#843c7c" fill-opacity="0.3"/>
<circle cx="492.0" cy="754.6" r="7.8" fill="#843c7c" fill-opacity="0.3"/>
<circle cx="548.4" cy="767.6" r="7.8" fill="#843c7c" fill-opacity="0.3"/>
<circle cx="608.0" cy="783.4" r="7.8" fill="#843c7c" fill-opacity="0.3"/>
<circle cx="677.3" cy="798.2" r="7.8" fill="#843c7c" fill-opacity="0.3"/>
<circle cx="731.6" cy="826.0" r="7.8" fill="#843c7c" fill-opacity="0.3"/>
<circle cx="789.6" cy="845.0" r="7.8" fill="#843c7c" fill-opacity="0.3"/>
<circle cx="852.3" cy="873.0" r="7.8" fill="#843c7c" fill-opacity="0.3"/>
<circle cx="910.7" cy="905.0" r="7.8" fill="#843c7c" fill-opacity="0.3"/>
<circle cx="967.8" cy="947.0" r="7.8" fill="#843c7c" fill-opacity="0.3"/>
<circle cx="1027.3" cy="1007.0" r="7.8" fill="#843c7c" fill-opacity="0.3"/>
<circle cx="1083.7" cy="1085.0" r="7.8" fill="#843c7c" fill-opacity="0.3"/>
<circle cx="1142.8" cy="1200.0" r="7.8" fill="#843c7c" fill-opacity="0.3"/>
<circle cx="1201.1" cy="1500.0" r="7.8" fill="#843c7c" fill-opacity="0.3"/>
<circle cx="1259.7" cy="1500.0" r="7.8" fill="#843c7c" fill-opacity="0.3"/>
<circle cx="1317.8" cy="1500.0" r="7.8" fill="#843c7c" fill-opacity="0.3"/>
<circle cx="1376.1" cy="1500.0" r="7.8" fill="#843c7c" fill-opacity="0.3"/>
<circle cx="1434.2" cy="1500.0" r="7.8" fill="#843c7c" fill-opacity="0.3"/>
<circle cx="1492.0" cy="1500.0" r="7.8" fill="#843c7c" fill-opacity="0.3"/>
<circle cx="1550.4" cy="1500.0" r="7.8" fill="#843c7c" fill-opacity="0.3"/>
<circle cx="1608.7" cy="1500.0" r="7.8" fill="#843c7c" fill-opacity="0.3"/>
<circle cx="1666.6" cy="1500.0" r="7.8" fill="#843c7c" fill-opacity="0.3"/>
<circle cx="1724.8" cy="1500.0" r="7.8" fill="#843c7c" fill-opacity="0.3"/>
<circle cx="1783.0" cy="1500.0" r="7.8" fill="#843c7c" fill-opacity="0.3"/>
<circle cx="1841.1" cy="1500.0" r="7.8" fill="#843c7c" fill-opacity="0.3"/>
<circle cx="1899.3" cy="1500.0" r="7.8" fill="#843c7c" fill-opacity="0.3"/>
<circle cx="1957.5" cy="1500.0" r="7.8" fill="#843c7c" fill-opacity="0.3"/>
<circle cx="2015.6" cy="1500.0" r="7.8" fill="#843c7c" fill-opacity="0.3"/>
<circle cx="2073.7" cy="1500.0" r="7.8" fill="#843c7c" fill-opacity="0.3"/>
<circle cx="2131.9" cy="1500.0" r="7.8" fill="#843c7c" fill-opacity="0.3"/>
<circle cx="2190.0" cy="1500.0" r="7.8" fill="#843c7c" fill-opacity="0.3"/>
</g>
<g>
<path d="M446.0,745.0 L450.4,746.0 L454.7,746.9 L459.1,747.9 L463.5,748.8 L467.9,749.8 L472.2,750.7 L476.6,751.7 L481.0,752.6 L485.3,753.6 L489.7,754.5 L494.1,755.4 L498.5,756.4 L502.8,757.3 L507.2,758.3 L511.6,759.2 L515.9,760.1 L520.3,761.1 L524.7,762.0 L529.0,762.9 L533.4,763.8 L537.8,764.8 L542.2,765.7 L546.5,766.6 L550.9,767.5 L555.3,768.5 L559.6,769.4 L564.0,770.3 L568.4,771.3 L572.8,772.2 L577.1,773.1 L581.5,774.1 L585.9,775.0 L590.2,775.9 L594.6,776.8 L599.0,777.7 L603.4,778.6 L607.7,779.4 L612.1,780.3 L616.5,781.1 L620.8,781.9 L625.2,782.6 L629.6,783.4 L633.9,784.1 L638.3,784.9 L642.7,785.6 L647.1,786.4 L651.4,787.1 L655.8,787.9 L660.2,788.7 L664.5,789.5 L668.9,790.3 L673.3,791.2 L677.7,792.1 L682.0,793.0 L686.4,794.0 L690.8,795.1 L695.1,796.1 L699.5,797.2 L703.9,798.4 L708.3,799.5 L712.6,800.6 L717.0,801.8 L721.4,802.9 L725.7,804.0 L730.1,805.1 L734.5,806.2 L738.9,807.3 L743.2,808.3 L747.6,809.4 L752.0,810.5 L756.3,811.5 L760.7,812.6 L765.1,813.7 L769.4,814.7 L773.8,815.8 L778.2,816.8 L782.6,817.9 L786.9,818.9 L791.3,819.9 L795.7,820.9 L800.0,821.9 L804.4,822.9 L808.8,823.9 L813.2,824.9 L817.5,825.9 L821.9,826.9 L826.3,827.8 L830.6,828.8 L835.0,829.8 L839.4,830.7 L843.8,831.7 L848.1,832.6 L852.5,833.5 L856.9,834.5 L861.2,835.4 L865.6,836.3 L870.0,837.2 L874.4,838.1 L878.7,839.0 L883.1,839.8 L887.5,840.7 L891.8,841.6 L896.2,842.5 L900.6,843.3 L904.9,844.2 L909.3,845.0 L913.7,845.9 L918.1,846.7 L922.4,847.6 L926.8,848.4 L931.2,849.2 L935.5,850.1 L939.9,850.9 L944.3,851.7 L948.7,852.5 L953.0,853.3 L957.4,854.1 L961.8,854.9 L966.1,855.7 L970.5,856.5 L974.9,857.2 L979.3,858.0 L983.6,858.7 L988.0,859.4 L992.4,860.2 L996.7,860.9 L1001.1,861.6 L1005.5,862.3 L1009.8,863.1 L1014.2,863.8 L1018.6,864.5 L1023.0,865.3 L1027.3,866.0 L1031.7,866.8 L1036.1,867.5 L1040.4,868.3 L1044.8,869.2 L1049.2,870.0 L1053.6,870.8 L1057.9,871.6 L1062.3,872.4 L1066.7,873.2 L1071.0,873.9 L1075.4,874.7 L1079.8,875.4 L1084.2,876.1 L1088.5,876.7 L1092.9,877.4 L1097.3,878.0 L1101.6,878.7 L1106.0,879.3 L1110.4,879.9 L1114.8,880.5 L1119.1,881.1 L1123.5,881.7 L1127.9,882.2 L1132.2,882.8 L1136.6,883.3 L1141.0,883.8 L1145.3,884.3 L1149.7,884.7 L1154.1,885.2 L1158.5,885.6 L1162.8,886.1 L1167.2,886.5 L1171.6,886.9 L1175.9,887.3 L1180.3,887.7 L1184.7,888.0 L1189.1,888.4 L1193.4,888.8 L1197.8,889.2 L1202.2,889.6 L1206.5,890.0 L1210.9,890.4 L1215.3,890.8 L1219.7,891.1 L1224.0,891.5 L1228.4,891.9 L1232.8,892.3 L1237.1,892.6 L1241.5,893.0 L1245.9,893.4 L1250.3,893.7 L1254.6,894.1 L1259.0,894.4 L1263.4,894.8 L1267.7,895.2 L1272.1,895.5 L1276.5,895.9 L1280.8,896.2 L1285.2,896.6 L1289.6,896.9 L1294.0,897.3 L1298.3,897.6 L1302.7,897.9 L1307.1,898.2 L1311.4,898.6 L1315.8,898.9 L1320.2,899.2 L1324.6,899.5 L1328.9,899.7 L1333.3,900.0 L1337.7,900.3 L1342.0,900.6 L1346.4,900.8 L1350.8,901.1 L1355.2,901.4 L1359.5,901.6 L1363.9,901.9 L1368.3,902.1 L1372.6,902.3 L1377.0,902.5 L1381.4,902.8 L1385.7,903.0 L1390.1,903.2 L1394.5,903.4 L1398.9,903.5 L1403.2,903.7 L1407.6,903.9 L1412.0,904.1 L1416.3,904.3 L1420.7,904.4 L1425.1,904.6 L1429.5,904.8 L1433.8,905.0 L1438.2,905.2 L1442.6,905.4 L1446.9,905.6 L1451.3,905.8 L1455.7,906.0 L1460.1,906.2 L1464.4,906.4 L1468.8,906.6 L1473.2,906.7 L1477.5,906.9 L1481.9,907.1 L1486.3,907.3 L1490.7,907.5 L1495.0,907.6 L1499.4,907.8 L1503.8,907.9 L1508.1,908.0 L1512.5,908.2 L1516.9,908.3 L1521.2,908.4 L1525.6,908.6 L1530.0,908.7 L1534.4,908.8 L1538.7,909.0 L1543.1,909.1 L1547.5,909.2 L1551.8,909.3 L1556.2,909.5 L1560.6,909.6 L1565.0,909.8 L1569.3,909.9 L1573.7,910.0 L1578.1,910.2 L1582.4,910.3 L1586.8,910.4 L1591.2,910.6 L1595.6,910.7 L1599.9,910.8 L1604.3,910.9 L1608.7,911.0 L1613.0,911.1 L1617.4,911.2 L1621.8,911.3 L1626.2,911.4 L1630.5,911.4 L1634.9,911.5 L1639.3,911.6 L1643.6,911.7 L1648.0,911.7 L1652.4,911.8 L1656.7,911.9 L1661.1,911.9 L1665.5,912.0 L1669.9,912.0 L1674.2,912.1 L1678.6,912.2 L1683.0,912.2 L1687.3,912.3 L1691.7,912.3 L1696.1,912.4 L1700.5,912.4 L1704.8,912.5 L1709.2,912.5 L1713.6,912.6 L1717.9,912.6 L1722.3,912.7 L1726.7,912.7 L1731.1,912.8 L1735.4,912.8 L1739.8,912.9 L1744.2,912.9 L1748.5,912.9 L1752.9,913.0 L1757.3,913.0 L1761.6,913.1 L1766.0,913.1 L1770.4,913.2 L1774.8,913.2 L1779.1,913.3 L1783.5,913.3 L1787.9,913.4 L1792.2,913.4 L1796.6,913.5 L1801.0,913.6 L1805.4,913.6 L1809.7,913.7 L1814.1,913.8 L1818.5,913.8 L1822.8,913.9 L1827.2,914.0 L1831.6,914.1 L1836.0,914.1 L1840.3,914.2 L1844.7,914.3 L1849.1,914.3 L1853.4,914.4 L1857.8,914.5 L1862.2,914.5 L1866.6,914.6 L1870.9,914.6 L1875.3,914.7 L1879.7,914.8 L1884.0,914.8 L1888.4,914.9 L1892.8,914.9 L1897.1,915.0 L1901.5,915.0 L1905.9,915.1 L1910.3,915.1 L1914.6,915.1 L1919.0,915.2 L1923.4,915.2 L1927.7,915.2 L1932.1,915.2 L1936.5,915.3 L1940.9,915.3 L1945.2,915.3 L1949.6,915.3 L1954.0,915.4 L1958.3,915.4 L1962.7,915.4 L1967.1,915.5 L1971.5,915.5 L1975.8,915.5 L1980.2,915.6 L1984.6,915.6 L1988.9,915.6 L1993.3,915.7 L1997.7,915.7 L2002.1,915.7 L2006.4,915.8 L2010.8,915.8 L2015.2,915.8 L2019.5,915.8 L2023.9,915.8 L2028.3,915.9 L2032.6,915.9 L2037.0,915.9 L2041.4,915.9 L2045.8,915.9 L2050.1,915.9 L2054.5,915.9 L2058.9,916.0 L2063.2,916.0 L2067.6,916.0 L2072.0,916.0 L2076.4,916.0 L2080.7,916.0 L2085.1,916.0 L2089.5,916.1 L2093.8,916.1 L2098.2,916.1 L2102.6,916.1 L2107.0,916.1 L2111.3,916.1 L2115.7,916.1 L2120.1,916.2 L2124.4,916.2 L2128.8,916.2 L2133.2,916.2 L2137.5,916.2 L2141.9,916.2 L2146.3,916.3 L2150.7,916.3 L2155.0,916.3 L2159.4,916.3 L2163.8,916.4 L2168.1,916.4 L2172.5,916.4 L2176.9,916.4 L2181.3,916.4 L2185.6,916.5 L2190.0,916.5" fill="none" stroke="#d6725f" stroke-width="8.3" stroke-dasharray="8.3 14.2" stroke-dashoffset="-3" stroke-opacity="0.3" stroke-linejoin="round"/>
<path d="M446.0,724.5V764.5 M492.0,735.0V775.0 M548.4,747.0V787.0 M608.0,760.5V800.5 M677.3,767.5V809.6 M731.6,787.2V829.3 M789.6,796.3V840.3 M852.3,810.1V854.1 M910.7,823.4V867.4 M967.8,833.2V877.2 M1027.3,844.2V889.3 M1083.7,854.2V900.3 M1142.8,861.7V907.8 M1201.1,865.8V913.9 M1259.7,870.9V919.0 M1317.8,875.7V925.7 M1376.1,879.6V927.7 M1434.2,881.4V929.5 M1492.0,883.7V933.7 M1550.4,885.9V934.0 M1608.7,887.7V935.8 M1666.6,888.7V936.8 M1724.8,888.9V938.0 M1783.0,889.5V938.6 M1841.1,890.8V939.9 M1899.3,891.4V940.5 M1957.5,891.4V940.5 M2015.6,892.0V941.1 M2073.7,892.2V941.3 M2131.9,892.4V941.5 M2190.0,892.6V941.7" fill="none" stroke="#d6725f" stroke-width="8.6" stroke-opacity="0.3"/>
<circle cx="446.0" cy="744.0" r="7.8" fill="#d6725f" fill-opacity="0.3"/>
<circle cx="492.0" cy="754.5" r="7.8" fill="#d6725f" fill-opacity="0.3"/>
<circle cx="548.4" cy="766.5" r="7.8" fill="#d6725f" fill-opacity="0.3"/>
<circle cx="608.0" cy="780.0" r="7.8" fill="#d6725f" fill-opacity="0.3"/>
<circle cx="677.3" cy="788.0" r="7.8" fill="#d6725f" fill-opacity="0.3"/>
<circle cx="731.6" cy="807.7" r="7.8" fill="#d6725f" fill-opacity="0.3"/>
<circle cx="789.6" cy="817.7" r="7.8" fill="#d6725f" fill-opacity="0.3"/>
<circle cx="852.3" cy="831.5" r="7.8" fill="#d6725f" fill-opacity="0.3"/>
<circle cx="910.7" cy="844.8" r="7.8" fill="#d6725f" fill-opacity="0.3"/>
<circle cx="967.8" cy="854.6" r="7.8" fill="#d6725f" fill-opacity="0.3"/>
<circle cx="1027.3" cy="866.1" r="7.8" fill="#d6725f" fill-opacity="0.3"/>
<circle cx="1083.7" cy="876.6" r="7.8" fill="#d6725f" fill-opacity="0.3"/>
<circle cx="1142.8" cy="884.1" r="7.8" fill="#d6725f" fill-opacity="0.3"/>
<circle cx="1201.1" cy="889.1" r="7.8" fill="#d6725f" fill-opacity="0.3"/>
<circle cx="1259.7" cy="894.2" r="7.8" fill="#d6725f" fill-opacity="0.3"/>
<circle cx="1317.8" cy="899.9" r="7.8" fill="#d6725f" fill-opacity="0.3"/>
<circle cx="1376.1" cy="902.9" r="7.8" fill="#d6725f" fill-opacity="0.3"/>
<circle cx="1434.2" cy="904.7" r="7.8" fill="#d6725f" fill-opacity="0.3"/>
<circle cx="1492.0" cy="907.9" r="7.8" fill="#d6725f" fill-opacity="0.3"/>
<circle cx="1550.4" cy="909.2" r="7.8" fill="#d6725f" fill-opacity="0.3"/>
<circle cx="1608.7" cy="911.0" r="7.8" fill="#d6725f" fill-opacity="0.3"/>
<circle cx="1666.6" cy="912.0" r="7.8" fill="#d6725f" fill-opacity="0.3"/>
<circle cx="1724.8" cy="912.7" r="7.8" fill="#d6725f" fill-opacity="0.3"/>
<circle cx="1783.0" cy="913.3" r="7.8" fill="#d6725f" fill-opacity="0.3"/>
<circle cx="1841.1" cy="914.6" r="7.8" fill="#d6725f" fill-opacity="0.3"/>
<circle cx="1899.3" cy="915.2" r="7.8" fill="#d6725f" fill-opacity="0.3"/>
<circle cx="1957.5" cy="915.2" r="7.8" fill="#d6725f" fill-opacity="0.3"/>
<circle cx="2015.6" cy="915.8" r="7.8" fill="#d6725f" fill-opacity="0.3"/>
<circle cx="2073.7" cy="916.0" r="7.8" fill="#d6725f" fill-opacity="0.3"/>
<circle cx="2131.9" cy="916.2" r="7.8" fill="#d6725f" fill-opacity="0.3"/>
<circle cx="2190.0" cy="916.4" r="7.8" fill="#d6725f" fill-opacity="0.3"/>
</g>
<g>
<path d="M446.0,727.0 L450.4,727.5 L454.7,727.9 L459.1,728.4 L463.5,728.9 L467.9,729.3 L472.2,729.7 L476.6,730.1 L481.0,730.5 L485.3,730.9 L489.7,731.3 L494.1,731.7 L498.5,732.0 L502.8,732.4 L507.2,732.7 L511.6,733.0 L515.9,733.3 L520.3,733.6 L524.7,733.9 L529.0,734.2 L533.4,734.5 L537.8,734.8 L542.2,735.1 L546.5,735.4 L550.9,735.7 L555.3,736.0 L559.6,736.3 L564.0,736.6 L568.4,736.9 L572.8,737.2 L577.1,737.5 L581.5,737.8 L585.9,738.1 L590.2,738.4 L594.6,738.6 L599.0,738.9 L603.4,739.2 L607.7,739.5 L612.1,739.7 L616.5,740.0 L620.8,740.3 L625.2,740.5 L629.6,740.8 L633.9,741.0 L638.3,741.3 L642.7,741.5 L647.1,741.8 L651.4,742.0 L655.8,742.3 L660.2,742.5 L664.5,742.8 L668.9,743.0 L673.3,743.3 L677.7,743.5 L682.0,743.8 L686.4,744.0 L690.8,744.3 L695.1,744.5 L699.5,744.8 L703.9,745.0 L708.3,745.3 L712.6,745.5 L717.0,745.7 L721.4,746.0 L725.7,746.2 L730.1,746.4 L734.5,746.6 L738.9,746.8 L743.2,747.0 L747.6,747.2 L752.0,747.4 L756.3,747.6 L760.7,747.8 L765.1,748.0 L769.4,748.2 L773.8,748.3 L778.2,748.5 L782.6,748.7 L786.9,748.9 L791.3,749.1 L795.7,749.3 L800.0,749.4 L804.4,749.6 L808.8,749.8 L813.2,750.0 L817.5,750.1 L821.9,750.3 L826.3,750.5 L830.6,750.7 L835.0,750.8 L839.4,751.0 L843.8,751.2 L848.1,751.3 L852.5,751.5 L856.9,751.7 L861.2,751.8 L865.6,752.0 L870.0,752.1 L874.4,752.3 L878.7,752.5 L883.1,752.6 L887.5,752.8 L891.8,752.9 L896.2,753.0 L900.6,753.2 L904.9,753.3 L909.3,753.5 L913.7,753.6 L918.1,753.7 L922.4,753.8 L926.8,754.0 L931.2,754.1 L935.5,754.2 L939.9,754.3 L944.3,754.4 L948.7,754.5 L953.0,754.6 L957.4,754.7 L961.8,754.9 L966.1,755.0 L970.5,755.1 L974.9,755.2 L979.3,755.3 L983.6,755.4 L988.0,755.5 L992.4,755.6 L996.7,755.7 L1001.1,755.8 L1005.5,755.9 L1009.8,756.0 L1014.2,756.1 L1018.6,756.1 L1023.0,756.2 L1027.3,756.3 L1031.7,756.4 L1036.1,756.4 L1040.4,756.5 L1044.8,756.6 L1049.2,756.6 L1053.6,756.7 L1057.9,756.7 L1062.3,756.8 L1066.7,756.8 L1071.0,756.9 L1075.4,756.9 L1079.8,757.0 L1084.2,757.0 L1088.5,757.0 L1092.9,757.1 L1097.3,757.1 L1101.6,757.2 L1106.0,757.2 L1110.4,757.2 L1114.8,757.3 L1119.1,757.3 L1123.5,757.3 L1127.9,757.4 L1132.2,757.4 L1136.6,757.4 L1141.0,757.5 L1145.3,757.5 L1149.7,757.6 L1154.1,757.6 L1158.5,757.6 L1162.8,757.7 L1167.2,757.7 L1171.6,757.8 L1175.9,757.8 L1180.3,757.8 L1184.7,757.9 L1189.1,757.9 L1193.4,757.9 L1197.8,758.0 L1202.2,758.0 L1206.5,758.0 L1210.9,758.1 L1215.3,758.1 L1219.7,758.1 L1224.0,758.1 L1228.4,758.2 L1232.8,758.2 L1237.1,758.2 L1241.5,758.2 L1245.9,758.2 L1250.3,758.3 L1254.6,758.3 L1259.0,758.3 L1263.4,758.3 L1267.7,758.3 L1272.1,758.3 L1276.5,758.4 L1280.8,758.4 L1285.2,758.4 L1289.6,758.4 L1294.0,758.4 L1298.3,758.4 L1302.7,758.4 L1307.1,758.5 L1311.4,758.5 L1315.8,758.5 L1320.2,758.5 L1324.6,758.5 L1328.9,758.5 L1333.3,758.6 L1337.7,758.6 L1342.0,758.6 L1346.4,758.6 L1350.8,758.6 L1355.2,758.6 L1359.5,758.7 L1363.9,758.7 L1368.3,758.7 L1372.6,758.7 L1377.0,758.7 L1381.4,758.7 L1385.7,758.7 L1390.1,758.7 L1394.5,758.7 L1398.9,758.7 L1403.2,758.8 L1407.6,758.8 L1412.0,758.8 L1416.3,758.8 L1420.7,758.8 L1425.1,758.8 L1429.5,758.8 L1433.8,758.8 L1438.2,758.8 L1442.6,758.8 L1446.9,758.8 L1451.3,758.8 L1455.7,758.8 L1460.1,758.8 L1464.4,758.9 L1468.8,758.9 L1473.2,758.9 L1477.5,758.9 L1481.9,758.9 L1486.3,758.9 L1490.7,758.9 L1495.0,758.9 L1499.4,758.9 L1503.8,758.9 L1508.1,758.9 L1512.5,758.9 L1516.9,759.0 L1521.2,759.0 L1525.6,759.0 L1530.0,759.0 L1534.4,759.0 L1538.7,759.0 L1543.1,759.0 L1547.5,759.0 L1551.8,759.0 L1556.2,759.0 L1560.6,759.0 L1565.0,759.0 L1569.3,759.0 L1573.7,759.0 L1578.1,759.0 L1582.4,759.0 L1586.8,759.0 L1591.2,759.0 L1595.6,759.0 L1599.9,759.0 L1604.3,759.0 L1608.7,759.0 L1613.0,759.0 L1617.4,759.0 L1621.8,759.0 L1626.2,759.0 L1630.5,759.0 L1634.9,759.1 L1639.3,759.1 L1643.6,759.1 L1648.0,759.1 L1652.4,759.1 L1656.7,759.2 L1661.1,759.2 L1665.5,759.2 L1669.9,759.2 L1674.2,759.2 L1678.6,759.2 L1683.0,759.3 L1687.3,759.3 L1691.7,759.3 L1696.1,759.3 L1700.5,759.3 L1704.8,759.3 L1709.2,759.4 L1713.6,759.4 L1717.9,759.4 L1722.3,759.4 L1726.7,759.4 L1731.1,759.4 L1735.4,759.4 L1739.8,759.4 L1744.2,759.4 L1748.5,759.4 L1752.9,759.5 L1757.3,759.5 L1761.6,759.5 L1766.0,759.5 L1770.4,759.5 L1774.8,759.5 L1779.1,759.5 L1783.5,759.5 L1787.9,759.5 L1792.2,759.5 L1796.6,759.5 L1801.0,759.5 L1805.4,759.5 L1809.7,759.5 L1814.1,759.6 L1818.5,759.6 L1822.8,759.6 L1827.2,759.6 L1831.6,759.6 L1836.0,759.6 L1840.3,759.6 L1844.7,759.6 L1849.1,759.6 L1853.4,759.6 L1857.8,759.6 L1862.2,759.6 L1866.6,759.6 L1870.9,759.7 L1875.3,759.7 L1879.7,759.7 L1884.0,759.7 L1888.4,759.7 L1892.8,759.7 L1897.1,759.7 L1901.5,759.7 L1905.9,759.7 L1910.3,759.7 L1914.6,759.7 L1919.0,759.7 L1923.4,759.7 L1927.7,759.7 L1932.1,759.8 L1936.5,759.8 L1940.9,759.8 L1945.2,759.8 L1949.6,759.8 L1954.0,759.8 L1958.3,759.8 L1962.7,759.8 L1967.1,759.8 L1971.5,759.8 L1975.8,759.8 L1980.2,759.8 L1984.6,759.8 L1988.9,759.9 L1993.3,759.9 L1997.7,759.9 L2002.1,759.9 L2006.4,759.9 L2010.8,759.9 L2015.2,759.9 L2019.5,759.9 L2023.9,759.9 L2028.3,759.9 L2032.6,759.9 L2037.0,759.9 L2041.4,760.0 L2045.8,760.0 L2050.1,760.0 L2054.5,760.0 L2058.9,760.0 L2063.2,760.0 L2067.6,760.0 L2072.0,760.0 L2076.4,760.0 L2080.7,760.0 L2085.1,760.0 L2089.5,760.0 L2093.8,760.0 L2098.2,760.0 L2102.6,760.0 L2107.0,760.0 L2111.3,760.0 L2115.7,760.0 L2120.1,760.0 L2124.4,760.0 L2128.8,760.0 L2133.2,760.0 L2137.5,760.0 L2141.9,760.0 L2146.3,760.0 L2150.7,760.0 L2155.0,760.0 L2159.4,760.0 L2163.8,760.0 L2168.1,760.0 L2172.5,760.0 L2176.9,760.0 L2181.3,760.0 L2185.6,760.0 L2190.0,760.0" fill="none" stroke="#e6a67a" stroke-width="8.3" stroke-dasharray="8.3 14.2" stroke-dashoffset="-1.5" stroke-opacity="0.3" stroke-linejoin="round"/>
<path d="M446.0,715.2V739.2 M492.0,719.7V743.7 M548.4,723.7V747.7 M608.0,727.7V751.7 M677.3,731.7V755.7 M731.6,734.7V758.7 M789.6,737.2V761.2 M852.3,739.7V763.7 M910.7,741.7V765.7 M967.8,743.2V767.2 M1027.3,744.5V768.5 M1083.7,745.2V769.2 M1142.8,745.7V769.7 M1201.1,746.2V770.2 M1259.7,746.5V770.5 M1317.8,746.7V770.7 M1376.1,746.9V770.9 M1434.2,747.0V771.0 M1492.0,747.1V771.1 M1550.4,747.2V771.2 M1608.7,747.2V771.2 M1666.6,747.4V771.4 M1724.8,747.6V771.6 M1783.0,747.7V771.7 M1841.1,747.8V771.8 M1899.3,747.9V771.9 M1957.5,748.0V772.0 M2015.6,748.1V772.1 M2073.7,748.2V772.2 M2131.9,748.2V772.2 M2190.0,748.2V772.2" fill="none" stroke="#e6a67a" stroke-width="8.6" stroke-opacity="0.3"/>
<circle cx="446.0" cy="727.0" r="7.8" fill="#e6a67a" fill-opacity="0.3"/>
<circle cx="492.0" cy="731.5" r="7.8" fill="#e6a67a" fill-opacity="0.3"/>
<circle cx="548.4" cy="735.5" r="7.8" fill="#e6a67a" fill-opacity="0.3"/>
<circle cx="608.0" cy="739.5" r="7.8" fill="#e6a67a" fill-opacity="0.3"/>
<circle cx="677.3" cy="743.5" r="7.8" fill="#e6a67a" fill-opacity="0.3"/>
<circle cx="731.6" cy="746.5" r="7.8" fill="#e6a67a" fill-opacity="0.3"/>
<circle cx="789.6" cy="749.0" r="7.8" fill="#e6a67a" fill-opacity="0.3"/>
<circle cx="852.3" cy="751.5" r="7.8" fill="#e6a67a" fill-opacity="0.3"/>
<circle cx="910.7" cy="753.5" r="7.8" fill="#e6a67a" fill-opacity="0.3"/>
<circle cx="967.8" cy="755.0" r="7.8" fill="#e6a67a" fill-opacity="0.3"/>
<circle cx="1027.3" cy="756.3" r="7.8" fill="#e6a67a" fill-opacity="0.3"/>
<circle cx="1083.7" cy="757.0" r="7.8" fill="#e6a67a" fill-opacity="0.3"/>
<circle cx="1142.8" cy="757.5" r="7.8" fill="#e6a67a" fill-opacity="0.3"/>
<circle cx="1201.1" cy="758.0" r="7.8" fill="#e6a67a" fill-opacity="0.3"/>
<circle cx="1259.7" cy="758.3" r="7.8" fill="#e6a67a" fill-opacity="0.3"/>
<circle cx="1317.8" cy="758.5" r="7.8" fill="#e6a67a" fill-opacity="0.3"/>
<circle cx="1376.1" cy="758.7" r="7.8" fill="#e6a67a" fill-opacity="0.3"/>
<circle cx="1434.2" cy="758.8" r="7.8" fill="#e6a67a" fill-opacity="0.3"/>
<circle cx="1492.0" cy="758.9" r="7.8" fill="#e6a67a" fill-opacity="0.3"/>
<circle cx="1550.4" cy="759.0" r="7.8" fill="#e6a67a" fill-opacity="0.3"/>
<circle cx="1608.7" cy="759.0" r="7.8" fill="#e6a67a" fill-opacity="0.3"/>
<circle cx="1666.6" cy="759.2" r="7.8" fill="#e6a67a" fill-opacity="0.3"/>
<circle cx="1724.8" cy="759.4" r="7.8" fill="#e6a67a" fill-opacity="0.3"/>
<circle cx="1783.0" cy="759.5" r="7.8" fill="#e6a67a" fill-opacity="0.3"/>
<circle cx="1841.1" cy="759.6" r="7.8" fill="#e6a67a" fill-opacity="0.3"/>
<circle cx="1899.3" cy="759.7" r="7.8" fill="#e6a67a" fill-opacity="0.3"/>
<circle cx="1957.5" cy="759.8" r="7.8" fill="#e6a67a" fill-opacity="0.3"/>
<circle cx="2015.6" cy="759.9" r="7.8" fill="#e6a67a" fill-opacity="0.3"/>
<circle cx="2073.7" cy="760.0" r="7.8" fill="#e6a67a" fill-opacity="0.3"/>
<circle cx="2131.9" cy="760.0" r="7.8" fill="#e6a67a" fill-opacity="0.3"/>
<circle cx="2190.0" cy="760.0" r="7.8" fill="#e6a67a" fill-opacity="0.3"/>
</g>
<g>
<path d="M446.0,714.0 L450.4,714.2 L454.7,714.4 L459.1,714.6 L463.5,714.8 L467.9,715.0 L472.2,715.2 L476.6,715.3 L481.0,715.5 L485.3,715.7 L489.7,715.9 L494.1,716.1 L498.5,716.3 L502.8,716.4 L507.2,716.6 L511.6,716.8 L515.9,716.9 L520.3,717.1 L524.7,717.3 L529.0,717.4 L533.4,717.6 L537.8,717.7 L542.2,717.8 L546.5,717.9 L550.9,718.1 L555.3,718.2 L559.6,718.3 L564.0,718.4 L568.4,718.5 L572.8,718.6 L577.1,718.6 L581.5,718.7 L585.9,718.8 L590.2,718.8 L594.6,718.9 L599.0,718.9 L603.4,719.0 L607.7,719.0 L612.1,719.0 L616.5,719.0 L620.8,719.0 L625.2,719.0 L629.6,719.0 L633.9,719.0 L638.3,719.0 L642.7,719.0 L647.1,718.9 L651.4,718.9 L655.8,718.9 L660.2,718.8 L664.5,718.7 L668.9,718.7 L673.3,718.6 L677.7,718.5 L682.0,718.4 L686.4,718.3 L690.8,718.2 L695.1,718.1 L699.5,717.9 L703.9,717.8 L708.3,717.6 L712.6,717.4 L717.0,717.3 L721.4,717.1 L725.7,716.8 L730.1,716.6 L734.5,716.3 L738.9,716.1 L743.2,715.8 L747.6,715.4 L752.0,715.1 L756.3,714.7 L760.7,714.3 L765.1,713.9 L769.4,713.5 L773.8,713.0 L778.2,712.5 L782.6,711.9 L786.9,711.4 L791.3,710.8 L795.7,710.1 L800.0,709.5 L804.4,708.8 L808.8,708.0 L813.2,707.3 L817.5,706.5 L821.9,705.6 L826.3,704.8 L830.6,703.9 L835.0,703.0 L839.4,702.0 L843.8,701.0 L848.1,700.0 L852.5,699.0 L856.9,697.9 L861.2,696.8 L865.6,695.6 L870.0,694.4 L874.4,693.2 L878.7,691.9 L883.1,690.6 L887.5,689.2 L891.8,687.8 L896.2,686.3 L900.6,684.8 L904.9,683.2 L909.3,681.5 L913.7,679.8 L918.1,678.0 L922.4,676.1 L926.8,674.2 L931.2,672.2 L935.5,670.1 L939.9,668.0 L944.3,665.8 L948.7,663.6 L953.0,661.3 L957.4,658.9 L961.8,656.5 L966.1,654.0 L970.5,651.4 L974.9,648.8 L979.3,646.2 L983.6,643.5 L988.0,640.7 L992.4,637.9 L996.7,635.0 L1001.1,632.1 L1005.5,629.1 L1009.8,626.1 L1014.2,623.0 L1018.6,619.9 L1023.0,616.7 L1027.3,613.5 L1031.7,610.2 L1036.1,606.9 L1040.4,603.5 L1044.8,600.0 L1049.2,596.4 L1053.6,592.6 L1057.9,588.7 L1062.3,584.7 L1066.7,580.4 L1071.0,576.0 L1075.4,571.4 L1079.8,566.5 L1084.2,561.4 L1088.5,556.1 L1092.9,550.5 L1097.3,544.6 L1101.6,538.5 L1106.0,532.2 L1110.4,525.6 L1114.8,518.8 L1119.1,511.8 L1123.5,504.6 L1127.9,497.1 L1132.2,489.4 L1136.6,481.6 L1141.0,473.5 L1145.3,465.2 L1149.7,456.7 L1154.1,448.1 L1158.5,439.4 L1162.8,430.6 L1167.2,421.7 L1171.6,412.8 L1175.9,404.0 L1180.3,395.2 L1184.7,386.4 L1189.1,377.8 L1193.4,369.3 L1197.8,361.1 L1202.2,353.0 L1206.5,345.2 L1210.9,337.6 L1215.3,330.5 L1219.7,323.7 L1224.0,317.4 L1228.4,311.6 L1232.8,306.4 L1237.1,301.8 L1241.5,297.9 L1245.9,294.7 L1250.3,292.3 L1254.6,290.7 L1259.0,290.0 L1263.4,290.3 L1267.7,291.4 L1272.1,293.3 L1276.5,296.1 L1280.8,299.5 L1285.2,303.7 L1289.6,308.4 L1294.0,313.7 L1298.3,319.5 L1302.7,325.8 L1307.1,332.4 L1311.4,339.4 L1315.8,346.6 L1320.2,354.1 L1324.6,361.7 L1328.9,369.4 L1333.3,377.3 L1337.7,385.3 L1342.0,393.3 L1346.4,401.4 L1350.8,409.5 L1355.2,417.5 L1359.5,425.6 L1363.9,433.5 L1368.3,441.3 L1372.6,449.1 L1377.0,456.6 L1381.4,464.0 L1385.7,471.2 L1390.1,478.2 L1394.5,485.1 L1398.9,491.8 L1403.2,498.3 L1407.6,504.6 L1412.0,510.7 L1416.3,516.6 L1420.7,522.4 L1425.1,528.0 L1429.5,533.4 L1433.8,538.6 L1438.2,543.6 L1442.6,548.5 L1446.9,553.2 L1451.3,557.7 L1455.7,562.0 L1460.1,566.2 L1464.4,570.3 L1468.8,574.2 L1473.2,578.0 L1477.5,581.7 L1481.9,585.2 L1486.3,588.6 L1490.7,592.0 L1495.0,595.2 L1499.4,598.4 L1503.8,601.4 L1508.1,604.4 L1512.5,607.3 L1516.9,610.1 L1521.2,612.9 L1525.6,615.6 L1530.0,618.3 L1534.4,620.9 L1538.7,623.4 L1543.1,625.9 L1547.5,628.4 L1551.8,630.8 L1556.2,633.2 L1560.6,635.5 L1565.0,637.9 L1569.3,640.1 L1573.7,642.4 L1578.1,644.6 L1582.4,646.7 L1586.8,648.8 L1591.2,650.9 L1595.6,652.9 L1599.9,654.8 L1604.3,656.7 L1608.7,658.5 L1613.0,660.3 L1617.4,661.9 L1621.8,663.6 L1626.2,665.2 L1630.5,666.7 L1634.9,668.2 L1639.3,669.6 L1643.6,671.0 L1648.0,672.4 L1652.4,673.8 L1656.7,675.1 L1661.1,676.4 L1665.5,677.7 L1669.9,678.9 L1674.2,680.2 L1678.6,681.4 L1683.0,682.7 L1687.3,683.9 L1691.7,685.1 L1696.1,686.3 L1700.5,687.4 L1704.8,688.6 L1709.2,689.7 L1713.6,690.8 L1717.9,691.9 L1722.3,692.9 L1726.7,693.9 L1731.1,695.0 L1735.4,695.9 L1739.8,696.9 L1744.2,697.9 L1748.5,698.8 L1752.9,699.7 L1757.3,700.6 L1761.6,701.5 L1766.0,702.3 L1770.4,703.2 L1774.8,704.0 L1779.1,704.8 L1783.5,705.6 L1787.9,706.4 L1792.2,707.1 L1796.6,707.9 L1801.0,708.6 L1805.4,709.4 L1809.7,710.1 L1814.1,710.8 L1818.5,711.5 L1822.8,712.2 L1827.2,712.8 L1831.6,713.5 L1836.0,714.1 L1840.3,714.7 L1844.7,715.3 L1849.1,715.9 L1853.4,716.4 L1857.8,717.0 L1862.2,717.5 L1866.6,718.0 L1870.9,718.5 L1875.3,719.0 L1879.7,719.5 L1884.0,720.0 L1888.4,720.4 L1892.8,720.9 L1897.1,721.3 L1901.5,721.7 L1905.9,722.1 L1910.3,722.5 L1914.6,722.9 L1919.0,723.3 L1923.4,723.7 L1927.7,724.0 L1932.1,724.4 L1936.5,724.7 L1940.9,725.1 L1945.2,725.4 L1949.6,725.7 L1954.0,726.1 L1958.3,726.4 L1962.7,726.7 L1967.1,727.0 L1971.5,727.2 L1975.8,727.5 L1980.2,727.8 L1984.6,728.1 L1988.9,728.3 L1993.3,728.6 L1997.7,728.8 L2002.1,729.1 L2006.4,729.3 L2010.8,729.5 L2015.2,729.8 L2019.5,730.0 L2023.9,730.2 L2028.3,730.4 L2032.6,730.7 L2037.0,730.9 L2041.4,731.1 L2045.8,731.3 L2050.1,731.5 L2054.5,731.7 L2058.9,731.9 L2063.2,732.1 L2067.6,732.2 L2072.0,732.4 L2076.4,732.6 L2080.7,732.8 L2085.1,733.0 L2089.5,733.1 L2093.8,733.3 L2098.2,733.5 L2102.6,733.7 L2107.0,733.8 L2111.3,734.0 L2115.7,734.1 L2120.1,734.3 L2124.4,734.4 L2128.8,734.6 L2133.2,734.7 L2137.5,734.9 L2141.9,735.0 L2146.3,735.2 L2150.7,735.3 L2155.0,735.4 L2159.4,735.5 L2163.8,735.7 L2168.1,735.8 L2172.5,735.9 L2176.9,736.0 L2181.3,736.1 L2185.6,736.2 L2190.0,736.3" fill="none" stroke="#291259" stroke-width="8.3" stroke-linejoin="round"/>
<path d="M446.0,695.4V731.4 M492.0,694.4V730.4 M548.4,702.4V738.4 M608.0,700.4V736.4 M677.3,696.4V732.4 M731.6,696.4V732.4 M789.6,682.9V721.0 M852.3,677.0V709.0 M910.7,654.5V693.5 M967.8,612.4V680.5 M1027.3,567.7V635.8 M1083.7,504.4V576.6 M1142.8,400.6V499.1 M1201.1,294.9V394.4 M1259.7,245.6V331.9 M1317.8,316.5V392.7 M1376.1,403.0V479.2 M1434.2,490.1V547.2 M1492.0,539.7V600.6 M1550.4,587.8V639.5 M1608.7,620.5V664.5 M1666.6,641.3V686.4 M1724.8,656.8V704.9 M1783.0,670.1V719.2 M1841.1,679.7V725.8 M1899.3,686.3V735.4 M1957.5,694.6V736.7 M2015.6,695.9V742.0 M2073.7,699.5V744.6 M2131.9,701.5V747.6 M2190.0,704.0V750.1" fill="none" stroke="#291259" stroke-width="8.6"/>
<circle cx="446.0" cy="713.0" r="10.8" fill="#291259"/>
<circle cx="492.0" cy="712.0" r="10.8" fill="#291259"/>
<circle cx="548.4" cy="720.0" r="10.8" fill="#291259"/>
<circle cx="608.0" cy="718.0" r="10.8" fill="#291259"/>
<circle cx="677.3" cy="714.0" r="10.8" fill="#291259"/>
<circle cx="731.6" cy="714.0" r="10.8" fill="#291259"/>
<circle cx="789.6" cy="701.5" r="10.8" fill="#291259"/>
<circle cx="852.3" cy="692.7" r="10.8" fill="#291259"/>
<circle cx="910.7" cy="673.5" r="10.8" fill="#291259"/>
<circle cx="967.8" cy="645.0" r="10.8" fill="#291259"/>
<circle cx="1027.3" cy="600.3" r="10.8" fill="#291259"/>
<circle cx="1083.7" cy="538.9" r="10.8" fill="#291259"/>
<circle cx="1142.8" cy="446.8" r="10.8" fill="#291259"/>
<circle cx="1201.1" cy="341.6" r="10.8" fill="#291259"/>
<circle cx="1259.7" cy="286.4" r="10.8" fill="#291259"/>
<circle cx="1317.8" cy="352.8" r="10.8" fill="#291259"/>
<circle cx="1376.1" cy="439.3" r="10.8" fill="#291259"/>
<circle cx="1434.2" cy="517.6" r="10.8" fill="#291259"/>
<circle cx="1492.0" cy="569.0" r="10.8" fill="#291259"/>
<circle cx="1550.4" cy="612.8" r="10.8" fill="#291259"/>
<circle cx="1608.7" cy="641.9" r="10.8" fill="#291259"/>
<circle cx="1666.6" cy="663.2" r="10.8" fill="#291259"/>
<circle cx="1724.8" cy="680.1" r="10.8" fill="#291259"/>
<circle cx="1783.0" cy="693.9" r="10.8" fill="#291259"/>
<circle cx="1841.1" cy="702.1" r="10.8" fill="#291259"/>
<circle cx="1899.3" cy="710.1" r="10.8" fill="#291259"/>
<circle cx="1957.5" cy="715.1" r="10.8" fill="#291259"/>
<circle cx="2015.6" cy="718.3" r="10.8" fill="#291259"/>
<circle cx="2073.7" cy="721.4" r="10.8" fill="#291259"/>
<circle cx="2131.9" cy="723.9" r="10.8" fill="#291259"/>
<circle cx="2190.0" cy="726.4" r="10.8" fill="#291259"/>
</g>
<g>
<path d="M446.0,714.0 L450.4,714.2 L454.7,714.4 L459.1,714.6 L463.5,714.8 L467.9,715.0 L472.2,715.2 L476.6,715.4 L481.0,715.5 L485.3,715.7 L489.7,715.9 L494.1,716.1 L498.5,716.3 L502.8,716.4 L507.2,716.6 L511.6,716.7 L515.9,716.9 L520.3,717.1 L524.7,717.2 L529.0,717.4 L533.4,717.5 L537.8,717.7 L542.2,717.8 L546.5,717.9 L550.9,718.1 L555.3,718.2 L559.6,718.3 L564.0,718.5 L568.4,718.6 L572.8,718.7 L577.1,718.8 L581.5,718.9 L585.9,719.0 L590.2,719.1 L594.6,719.2 L599.0,719.3 L603.4,719.4 L607.7,719.5 L612.1,719.6 L616.5,719.6 L620.8,719.7 L625.2,719.8 L629.6,719.8 L633.9,719.8 L638.3,719.9 L642.7,719.9 L647.1,719.9 L651.4,719.9 L655.8,719.9 L660.2,719.8 L664.5,719.8 L668.9,719.7 L673.3,719.6 L677.7,719.5 L682.0,719.4 L686.4,719.2 L690.8,719.1 L695.1,718.9 L699.5,718.7 L703.9,718.5 L708.3,718.3 L712.6,718.1 L717.0,717.8 L721.4,717.6 L725.7,717.3 L730.1,717.1 L734.5,716.8 L738.9,716.6 L743.2,716.3 L747.6,716.0 L752.0,715.7 L756.3,715.4 L760.7,715.1 L765.1,714.8 L769.4,714.4 L773.8,714.1 L778.2,713.7 L782.6,713.2 L786.9,712.8 L791.3,712.3 L795.7,711.8 L800.0,711.3 L804.4,710.7 L808.8,710.1 L813.2,709.5 L817.5,708.8 L821.9,708.1 L826.3,707.3 L830.6,706.5 L835.0,705.7 L839.4,704.8 L843.8,703.9 L848.1,703.0 L852.5,702.0 L856.9,700.9 L861.2,699.8 L865.6,698.7 L870.0,697.5 L874.4,696.3 L878.7,695.0 L883.1,693.7 L887.5,692.3 L891.8,690.9 L896.2,689.5 L900.6,688.0 L904.9,686.5 L909.3,685.0 L913.7,683.4 L918.1,681.8 L922.4,680.1 L926.8,678.5 L931.2,676.7 L935.5,675.0 L939.9,673.2 L944.3,671.4 L948.7,669.5 L953.0,667.6 L957.4,665.7 L961.8,663.8 L966.1,661.8 L970.5,659.8 L974.9,657.7 L979.3,655.6 L983.6,653.5 L988.0,651.4 L992.4,649.3 L996.7,647.1 L1001.1,644.9 L1005.5,642.6 L1009.8,640.3 L1014.2,638.0 L1018.6,635.7 L1023.0,633.4 L1027.3,631.0 L1031.7,628.6 L1036.1,626.2 L1040.4,623.7 L1044.8,621.2 L1049.2,618.6 L1053.6,616.0 L1057.9,613.3 L1062.3,610.6 L1066.7,607.8 L1071.0,604.9 L1075.4,601.9 L1079.8,598.8 L1084.2,595.6 L1088.5,592.4 L1092.9,589.0 L1097.3,585.6 L1101.6,582.1 L1106.0,578.6 L1110.4,575.0 L1114.8,571.4 L1119.1,567.8 L1123.5,564.3 L1127.9,560.7 L1132.2,557.2 L1136.6,553.8 L1141.0,550.4 L1145.3,547.1 L1149.7,543.9 L1154.1,540.8 L1158.5,537.9 L1162.8,535.0 L1167.2,532.3 L1171.6,529.7 L1175.9,527.3 L1180.3,525.1 L1184.7,523.0 L1189.1,521.1 L1193.4,519.5 L1197.8,518.0 L1202.2,516.7 L1206.5,515.7 L1210.9,514.8 L1215.3,514.2 L1219.7,513.8 L1224.0,513.5 L1228.4,513.5 L1232.8,513.6 L1237.1,513.9 L1241.5,514.4 L1245.9,515.0 L1250.3,515.8 L1254.6,516.7 L1259.0,517.8 L1263.4,519.0 L1267.7,520.4 L1272.1,521.8 L1276.5,523.4 L1280.8,525.1 L1285.2,526.9 L1289.6,528.8 L1294.0,530.7 L1298.3,532.8 L1302.7,535.0 L1307.1,537.2 L1311.4,539.5 L1315.8,541.9 L1320.2,544.3 L1324.6,546.8 L1328.9,549.4 L1333.3,551.9 L1337.7,554.5 L1342.0,557.2 L1346.4,559.9 L1350.8,562.5 L1355.2,565.2 L1359.5,567.9 L1363.9,570.6 L1368.3,573.3 L1372.6,575.9 L1377.0,578.6 L1381.4,581.2 L1385.7,583.8 L1390.1,586.3 L1394.5,588.8 L1398.9,591.3 L1403.2,593.8 L1407.6,596.3 L1412.0,598.8 L1416.3,601.2 L1420.7,603.6 L1425.1,606.0 L1429.5,608.4 L1433.8,610.8 L1438.2,613.2 L1442.6,615.6 L1446.9,617.9 L1451.3,620.3 L1455.7,622.6 L1460.1,624.9 L1464.4,627.2 L1468.8,629.5 L1473.2,631.7 L1477.5,633.9 L1481.9,636.1 L1486.3,638.2 L1490.7,640.3 L1495.0,642.4 L1499.4,644.4 L1503.8,646.4 L1508.1,648.4 L1512.5,650.3 L1516.9,652.2 L1521.2,654.1 L1525.6,655.9 L1530.0,657.8 L1534.4,659.6 L1538.7,661.3 L1543.1,663.1 L1547.5,664.8 L1551.8,666.6 L1556.2,668.3 L1560.6,670.0 L1565.0,671.6 L1569.3,673.3 L1573.7,674.9 L1578.1,676.6 L1582.4,678.1 L1586.8,679.7 L1591.2,681.2 L1595.6,682.7 L1599.9,684.2 L1604.3,685.6 L1608.7,687.0 L1613.0,688.3 L1617.4,689.7 L1621.8,690.9 L1626.2,692.2 L1630.5,693.4 L1634.9,694.5 L1639.3,695.6 L1643.6,696.7 L1648.0,697.8 L1652.4,698.8 L1656.7,699.8 L1661.1,700.8 L1665.5,701.8 L1669.9,702.7 L1674.2,703.6 L1678.6,704.5 L1683.0,705.3 L1687.3,706.1 L1691.7,707.0 L1696.1,707.8 L1700.5,708.5 L1704.8,709.3 L1709.2,710.1 L1713.6,710.8 L1717.9,711.6 L1722.3,712.3 L1726.7,713.0 L1731.1,713.7 L1735.4,714.4 L1739.8,715.2 L1744.2,715.8 L1748.5,716.5 L1752.9,717.2 L1757.3,717.9 L1761.6,718.5 L1766.0,719.2 L1770.4,719.8 L1774.8,720.4 L1779.1,721.0 L1783.5,721.6 L1787.9,722.1 L1792.2,722.7 L1796.6,723.2 L1801.0,723.7 L1805.4,724.2 L1809.7,724.6 L1814.1,725.1 L1818.5,725.6 L1822.8,726.0 L1827.2,726.5 L1831.6,726.9 L1836.0,727.3 L1840.3,727.7 L1844.7,728.1 L1849.1,728.6 L1853.4,729.0 L1857.8,729.4 L1862.2,729.8 L1866.6,730.2 L1870.9,730.5 L1875.3,730.9 L1879.7,731.3 L1884.0,731.7 L1888.4,732.1 L1892.8,732.5 L1897.1,732.8 L1901.5,733.2 L1905.9,733.5 L1910.3,733.9 L1914.6,734.3 L1919.0,734.6 L1923.4,734.9 L1927.7,735.3 L1932.1,735.6 L1936.5,736.0 L1940.9,736.3 L1945.2,736.6 L1949.6,736.9 L1954.0,737.2 L1958.3,737.6 L1962.7,737.9 L1967.1,738.2 L1971.5,738.5 L1975.8,738.8 L1980.2,739.1 L1984.6,739.4 L1988.9,739.6 L1993.3,739.9 L1997.7,740.2 L2002.1,740.5 L2006.4,740.7 L2010.8,741.0 L2015.2,741.3 L2019.5,741.5 L2023.9,741.8 L2028.3,742.0 L2032.6,742.3 L2037.0,742.5 L2041.4,742.8 L2045.8,743.0 L2050.1,743.3 L2054.5,743.5 L2058.9,743.7 L2063.2,744.0 L2067.6,744.2 L2072.0,744.4 L2076.4,744.6 L2080.7,744.9 L2085.1,745.1 L2089.5,745.3 L2093.8,745.5 L2098.2,745.7 L2102.6,745.9 L2107.0,746.1 L2111.3,746.3 L2115.7,746.5 L2120.1,746.7 L2124.4,746.9 L2128.8,747.1 L2133.2,747.3 L2137.5,747.4 L2141.9,747.6 L2146.3,747.8 L2150.7,748.0 L2155.0,748.2 L2159.4,748.3 L2163.8,748.5 L2168.1,748.7 L2172.5,748.8 L2176.9,749.0 L2181.3,749.2 L2185.6,749.3 L2190.0,749.5" fill="none" stroke="#57267a" stroke-width="8.3" stroke-linejoin="round"/>
<path d="M446.0,695.4V731.4 M492.0,694.4V730.4 M548.4,702.4V738.4 M608.0,700.4V736.4 M677.3,696.4V732.4 M731.6,696.9V732.9 M789.6,687.4V723.4 M852.3,677.6V713.6 M910.7,659.5V699.5 M967.8,632.2V680.3 M1027.3,595.4V651.5 M1083.7,552.1V612.2 M1142.8,509.7V575.8 M1201.1,482.5V550.6 M1259.7,491.6V550.7 M1317.8,513.8V573.9 M1376.1,552.3V607.6 M1434.2,587.0V635.1 M1492.0,615.2V667.3 M1550.4,643.1V689.2 M1608.7,662.1V707.2 M1666.6,677.1V722.2 M1724.8,691.0V733.1 M1783.0,700.1V740.1 M1841.1,705.9V745.9 M1899.3,710.9V750.9 M1957.5,715.5V755.5 M2015.6,718.5V758.5 M2073.7,721.5V761.5 M2131.9,723.5V763.5 M2190.0,725.5V765.5" fill="none" stroke="#57267a" stroke-width="8.6"/>
<circle cx="446.0" cy="713.0" r="10.8" fill="#57267a"/>
<circle cx="492.0" cy="712.0" r="10.8" fill="#57267a"/>
<circle cx="548.4" cy="720.0" r="10.8" fill="#57267a"/>
<circle cx="608.0" cy="718.0" r="10.8" fill="#57267a"/>
<circle cx="677.3" cy="714.0" r="10.8" fill="#57267a"/>
<circle cx="731.6" cy="714.5" r="10.8" fill="#57267a"/>
<circle cx="789.6" cy="705.0" r="10.8" fill="#57267a"/>
<circle cx="852.3" cy="695.2" r="10.8" fill="#57267a"/>
<circle cx="910.7" cy="679.0" r="10.8" fill="#57267a"/>
<circle cx="967.8" cy="655.5" r="10.8" fill="#57267a"/>
<circle cx="1027.3" cy="622.5" r="10.8" fill="#57267a"/>
<circle cx="1083.7" cy="581.0" r="10.8" fill="#57267a"/>
<circle cx="1142.8" cy="541.4" r="10.8" fill="#57267a"/>
<circle cx="1201.1" cy="515.1" r="10.8" fill="#57267a"/>
<circle cx="1259.7" cy="520.1" r="10.8" fill="#57267a"/>
<circle cx="1317.8" cy="542.7" r="10.8" fill="#57267a"/>
<circle cx="1376.1" cy="579.0" r="10.8" fill="#57267a"/>
<circle cx="1434.2" cy="610.3" r="10.8" fill="#57267a"/>
<circle cx="1492.0" cy="640.4" r="10.8" fill="#57267a"/>
<circle cx="1550.4" cy="665.5" r="10.8" fill="#57267a"/>
<circle cx="1608.7" cy="684.0" r="10.8" fill="#57267a"/>
<circle cx="1666.6" cy="699.0" r="10.8" fill="#57267a"/>
<circle cx="1724.8" cy="711.5" r="10.8" fill="#57267a"/>
<circle cx="1783.0" cy="719.6" r="10.8" fill="#57267a"/>
<circle cx="1841.1" cy="725.4" r="10.8" fill="#57267a"/>
<circle cx="1899.3" cy="730.4" r="10.8" fill="#57267a"/>
<circle cx="1957.5" cy="735.0" r="10.8" fill="#57267a"/>
<circle cx="2015.6" cy="738.0" r="10.8" fill="#57267a"/>
<circle cx="2073.7" cy="741.0" r="10.8" fill="#57267a"/>
<circle cx="2131.9" cy="743.0" r="10.8" fill="#57267a"/>
<circle cx="2190.0" cy="745.0" r="10.8" fill="#57267a"/>
</g>
<g>
<path d="M446.0,714.0 L450.4,714.3 L454.7,714.5 L459.1,714.8 L463.5,715.0 L467.9,715.2 L472.2,715.5 L476.6,715.7 L481.0,715.9 L485.3,716.2 L489.7,716.4 L494.1,716.6 L498.5,716.8 L502.8,717.0 L507.2,717.2 L511.6,717.4 L515.9,717.6 L520.3,717.8 L524.7,718.0 L529.0,718.2 L533.4,718.4 L537.8,718.6 L542.2,718.7 L546.5,718.9 L550.9,719.1 L555.3,719.3 L559.6,719.4 L564.0,719.6 L568.4,719.8 L572.8,719.9 L577.1,720.1 L581.5,720.2 L585.9,720.4 L590.2,720.5 L594.6,720.6 L599.0,720.8 L603.4,720.9 L607.7,721.0 L612.1,721.1 L616.5,721.2 L620.8,721.3 L625.2,721.4 L629.6,721.4 L633.9,721.5 L638.3,721.5 L642.7,721.5 L647.1,721.5 L651.4,721.5 L655.8,721.5 L660.2,721.4 L664.5,721.4 L668.9,721.3 L673.3,721.1 L677.7,721.0 L682.0,720.8 L686.4,720.6 L690.8,720.4 L695.1,720.2 L699.5,719.9 L703.9,719.7 L708.3,719.4 L712.6,719.1 L717.0,718.9 L721.4,718.6 L725.7,718.3 L730.1,718.1 L734.5,717.8 L738.9,717.6 L743.2,717.4 L747.6,717.2 L752.0,717.0 L756.3,716.8 L760.7,716.6 L765.1,716.4 L769.4,716.1 L773.8,715.9 L778.2,715.7 L782.6,715.4 L786.9,715.2 L791.3,714.9 L795.7,714.6 L800.0,714.3 L804.4,713.9 L808.8,713.6 L813.2,713.2 L817.5,712.8 L821.9,712.4 L826.3,711.9 L830.6,711.5 L835.0,711.0 L839.4,710.5 L843.8,710.0 L848.1,709.5 L852.5,709.0 L856.9,708.4 L861.2,707.9 L865.6,707.3 L870.0,706.7 L874.4,706.1 L878.7,705.4 L883.1,704.8 L887.5,704.1 L891.8,703.4 L896.2,702.6 L900.6,701.9 L904.9,701.1 L909.3,700.3 L913.7,699.4 L918.1,698.5 L922.4,697.6 L926.8,696.7 L931.2,695.8 L935.5,694.8 L939.9,693.9 L944.3,692.9 L948.7,692.0 L953.0,691.0 L957.4,690.1 L961.8,689.2 L966.1,688.3 L970.5,687.5 L974.9,686.7 L979.3,685.9 L983.6,685.1 L988.0,684.4 L992.4,683.6 L996.7,682.9 L1001.1,682.3 L1005.5,681.6 L1009.8,681.0 L1014.2,680.3 L1018.6,679.7 L1023.0,679.1 L1027.3,678.5 L1031.7,677.9 L1036.1,677.3 L1040.4,676.7 L1044.8,676.2 L1049.2,675.6 L1053.6,675.1 L1057.9,674.5 L1062.3,674.0 L1066.7,673.4 L1071.0,672.9 L1075.4,672.4 L1079.8,671.9 L1084.2,671.4 L1088.5,671.0 L1092.9,670.5 L1097.3,670.1 L1101.6,669.7 L1106.0,669.3 L1110.4,668.9 L1114.8,668.6 L1119.1,668.3 L1123.5,668.0 L1127.9,667.8 L1132.2,667.7 L1136.6,667.6 L1141.0,667.5 L1145.3,667.5 L1149.7,667.6 L1154.1,667.7 L1158.5,667.8 L1162.8,668.1 L1167.2,668.3 L1171.6,668.7 L1175.9,669.0 L1180.3,669.4 L1184.7,669.9 L1189.1,670.4 L1193.4,671.0 L1197.8,671.5 L1202.2,672.2 L1206.5,672.8 L1210.9,673.5 L1215.3,674.2 L1219.7,675.0 L1224.0,675.8 L1228.4,676.6 L1232.8,677.4 L1237.1,678.3 L1241.5,679.1 L1245.9,680.0 L1250.3,681.0 L1254.6,681.9 L1259.0,682.9 L1263.4,683.8 L1267.7,684.8 L1272.1,685.8 L1276.5,686.8 L1280.8,687.7 L1285.2,688.7 L1289.6,689.7 L1294.0,690.7 L1298.3,691.7 L1302.7,692.7 L1307.1,693.7 L1311.4,694.6 L1315.8,695.6 L1320.2,696.5 L1324.6,697.4 L1328.9,698.3 L1333.3,699.2 L1337.7,700.1 L1342.0,700.9 L1346.4,701.7 L1350.8,702.6 L1355.2,703.4 L1359.5,704.2 L1363.9,704.9 L1368.3,705.7 L1372.6,706.4 L1377.0,707.2 L1381.4,707.9 L1385.7,708.6 L1390.1,709.3 L1394.5,709.9 L1398.9,710.6 L1403.2,711.3 L1407.6,711.9 L1412.0,712.6 L1416.3,713.3 L1420.7,713.9 L1425.1,714.6 L1429.5,715.3 L1433.8,715.9 L1438.2,716.6 L1442.6,717.3 L1446.9,718.0 L1451.3,718.7 L1455.7,719.5 L1460.1,720.2 L1464.4,720.9 L1468.8,721.7 L1473.2,722.4 L1477.5,723.2 L1481.9,723.9 L1486.3,724.7 L1490.7,725.5 L1495.0,726.2 L1499.4,727.0 L1503.8,727.8 L1508.1,728.6 L1512.5,729.4 L1516.9,730.1 L1521.2,730.9 L1525.6,731.7 L1530.0,732.5 L1534.4,733.2 L1538.7,734.0 L1543.1,734.8 L1547.5,735.5 L1551.8,736.2 L1556.2,737.0 L1560.6,737.7 L1565.0,738.4 L1569.3,739.1 L1573.7,739.8 L1578.1,740.4 L1582.4,741.1 L1586.8,741.7 L1591.2,742.3 L1595.6,742.9 L1599.9,743.4 L1604.3,744.0 L1608.7,744.5 L1613.0,745.0 L1617.4,745.5 L1621.8,745.9 L1626.2,746.4 L1630.5,746.8 L1634.9,747.2 L1639.3,747.6 L1643.6,748.0 L1648.0,748.4 L1652.4,748.7 L1656.7,749.1 L1661.1,749.5 L1665.5,749.9 L1669.9,750.3 L1674.2,750.7 L1678.6,751.1 L1683.0,751.5 L1687.3,752.0 L1691.7,752.4 L1696.1,752.8 L1700.5,753.2 L1704.8,753.7 L1709.2,754.1 L1713.6,754.5 L1717.9,754.9 L1722.3,755.3 L1726.7,755.7 L1731.1,756.0 L1735.4,756.4 L1739.8,756.8 L1744.2,757.1 L1748.5,757.4 L1752.9,757.8 L1757.3,758.1 L1761.6,758.4 L1766.0,758.7 L1770.4,759.0 L1774.8,759.3 L1779.1,759.6 L1783.5,759.8 L1787.9,760.1 L1792.2,760.4 L1796.6,760.6 L1801.0,760.9 L1805.4,761.1 L1809.7,761.3 L1814.1,761.6 L1818.5,761.8 L1822.8,762.0 L1827.2,762.3 L1831.6,762.5 L1836.0,762.7 L1840.3,763.0 L1844.7,763.2 L1849.1,763.4 L1853.4,763.7 L1857.8,763.9 L1862.2,764.1 L1866.6,764.3 L1870.9,764.6 L1875.3,764.8 L1879.7,765.0 L1884.0,765.3 L1888.4,765.5 L1892.8,765.7 L1897.1,765.9 L1901.5,766.1 L1905.9,766.3 L1910.3,766.5 L1914.6,766.7 L1919.0,766.9 L1923.4,767.1 L1927.7,767.3 L1932.1,767.4 L1936.5,767.6 L1940.9,767.8 L1945.2,767.9 L1949.6,768.1 L1954.0,768.3 L1958.3,768.4 L1962.7,768.6 L1967.1,768.7 L1971.5,768.9 L1975.8,769.0 L1980.2,769.2 L1984.6,769.3 L1988.9,769.4 L1993.3,769.6 L1997.7,769.7 L2002.1,769.8 L2006.4,770.0 L2010.8,770.1 L2015.2,770.2 L2019.5,770.3 L2023.9,770.4 L2028.3,770.5 L2032.6,770.6 L2037.0,770.7 L2041.4,770.8 L2045.8,770.9 L2050.1,771.0 L2054.5,771.1 L2058.9,771.2 L2063.2,771.3 L2067.6,771.4 L2072.0,771.5 L2076.4,771.6 L2080.7,771.6 L2085.1,771.7 L2089.5,771.8 L2093.8,771.9 L2098.2,772.0 L2102.6,772.1 L2107.0,772.2 L2111.3,772.2 L2115.7,772.3 L2120.1,772.4 L2124.4,772.5 L2128.8,772.5 L2133.2,772.6 L2137.5,772.7 L2141.9,772.8 L2146.3,772.8 L2150.7,772.9 L2155.0,773.0 L2159.4,773.0 L2163.8,773.1 L2168.1,773.1 L2172.5,773.2 L2176.9,773.3 L2181.3,773.3 L2185.6,773.4 L2190.0,773.4" fill="none" stroke="#843c7c" stroke-width="8.3" stroke-linejoin="round"/>
<path d="M446.0,695.4V731.4 M492.0,694.9V730.9 M548.4,702.9V738.9 M608.0,700.9V736.9 M677.3,697.4V733.4 M731.6,698.4V734.4 M789.6,695.8V731.8 M852.3,691.0V729.1 M910.7,680.4V718.5 M967.8,657.1V717.2 M1027.3,649.9V704.0 M1083.7,647.5V689.6 M1142.8,650.4V687.4 M1201.1,650.6V696.7 M1259.7,663.8V705.9 M1317.8,675.0V717.1 M1376.1,694.0V728.0 M1434.2,700.8V738.9 M1492.0,711.2V755.2 M1550.4,725.7V761.7 M1608.7,738.5V770.5 M1666.6,743.8V775.8 M1724.8,747.8V779.8 M1783.0,751.5V783.5 M1841.1,752.8V784.8 M1899.3,757.7V789.7 M1957.5,759.0V791.0 M2015.6,759.6V791.6 M2073.7,760.2V792.2 M2131.9,760.3V792.3 M2190.0,760.8V792.8" fill="none" stroke="#843c7c" stroke-width="8.6"/>
<circle cx="446.0" cy="713.0" r="10.8" fill="#843c7c"/>
<circle cx="492.0" cy="712.5" r="10.8" fill="#843c7c"/>
<circle cx="548.4" cy="720.5" r="10.8" fill="#843c7c"/>
<circle cx="608.0" cy="718.5" r="10.8" fill="#843c7c"/>
<circle cx="677.3" cy="715.0" r="10.8" fill="#843c7c"/>
<circle cx="731.6" cy="716.0" r="10.8" fill="#843c7c"/>
<circle cx="789.6" cy="713.4" r="10.8" fill="#843c7c"/>
<circle cx="852.3" cy="709.6" r="10.8" fill="#843c7c"/>
<circle cx="910.7" cy="699.0" r="10.8" fill="#843c7c"/>
<circle cx="967.8" cy="686.0" r="10.8" fill="#843c7c"/>
<circle cx="1027.3" cy="676.0" r="10.8" fill="#843c7c"/>
<circle cx="1083.7" cy="668.0" r="10.8" fill="#843c7c"/>
<circle cx="1142.8" cy="668.5" r="10.8" fill="#843c7c"/>
<circle cx="1201.1" cy="673.0" r="10.8" fill="#843c7c"/>
<circle cx="1259.7" cy="684.3" r="10.8" fill="#843c7c"/>
<circle cx="1317.8" cy="695.5" r="10.8" fill="#843c7c"/>
<circle cx="1376.1" cy="710.6" r="10.8" fill="#843c7c"/>
<circle cx="1434.2" cy="719.4" r="10.8" fill="#843c7c"/>
<circle cx="1492.0" cy="732.6" r="10.8" fill="#843c7c"/>
<circle cx="1550.4" cy="743.3" r="10.8" fill="#843c7c"/>
<circle cx="1608.7" cy="754.2" r="10.8" fill="#843c7c"/>
<circle cx="1666.6" cy="759.5" r="10.8" fill="#843c7c"/>
<circle cx="1724.8" cy="763.5" r="10.8" fill="#843c7c"/>
<circle cx="1783.0" cy="767.2" r="10.8" fill="#843c7c"/>
<circle cx="1841.1" cy="768.5" r="10.8" fill="#843c7c"/>
<circle cx="1899.3" cy="773.4" r="10.8" fill="#843c7c"/>
<circle cx="1957.5" cy="774.7" r="10.8" fill="#843c7c"/>
<circle cx="2015.6" cy="775.3" r="10.8" fill="#843c7c"/>
<circle cx="2073.7" cy="775.9" r="10.8" fill="#843c7c"/>
<circle cx="2131.9" cy="776.0" r="10.8" fill="#843c7c"/>
<circle cx="2190.0" cy="776.5" r="10.8" fill="#843c7c"/>
</g>
<g>
<path d="M446.0,715.0 L450.4,715.6 L454.7,716.2 L459.1,716.7 L463.5,717.3 L467.9,717.9 L472.2,718.5 L476.6,719.0 L481.0,719.6 L485.3,720.1 L489.7,720.7 L494.1,721.3 L498.5,721.8 L502.8,722.4 L507.2,722.9 L511.6,723.5 L515.9,724.0 L520.3,724.6 L524.7,725.1 L529.0,725.6 L533.4,726.2 L537.8,726.7 L542.2,727.2 L546.5,727.8 L550.9,728.3 L555.3,728.8 L559.6,729.4 L564.0,729.9 L568.4,730.4 L572.8,730.9 L577.1,731.5 L581.5,732.0 L585.9,732.5 L590.2,733.0 L594.6,733.5 L599.0,734.0 L603.4,734.5 L607.7,735.0 L612.1,735.4 L616.5,735.9 L620.8,736.4 L625.2,736.8 L629.6,737.3 L633.9,737.7 L638.3,738.1 L642.7,738.6 L647.1,739.0 L651.4,739.4 L655.8,739.9 L660.2,740.3 L664.5,740.7 L668.9,741.2 L673.3,741.6 L677.7,742.0 L682.0,742.5 L686.4,742.9 L690.8,743.4 L695.1,743.8 L699.5,744.3 L703.9,744.7 L708.3,745.2 L712.6,745.6 L717.0,746.0 L721.4,746.5 L725.7,746.9 L730.1,747.3 L734.5,747.8 L738.9,748.2 L743.2,748.6 L747.6,749.1 L752.0,749.5 L756.3,749.9 L760.7,750.3 L765.1,750.8 L769.4,751.2 L773.8,751.6 L778.2,752.0 L782.6,752.4 L786.9,752.8 L791.3,753.1 L795.7,753.5 L800.0,753.9 L804.4,754.2 L808.8,754.6 L813.2,754.9 L817.5,755.3 L821.9,755.6 L826.3,755.9 L830.6,756.3 L835.0,756.6 L839.4,757.0 L843.8,757.3 L848.1,757.7 L852.5,758.0 L856.9,758.4 L861.2,758.8 L865.6,759.1 L870.0,759.5 L874.4,759.9 L878.7,760.3 L883.1,760.7 L887.5,761.1 L891.8,761.4 L896.2,761.8 L900.6,762.2 L904.9,762.5 L909.3,762.9 L913.7,763.2 L918.1,763.6 L922.4,763.9 L926.8,764.2 L931.2,764.5 L935.5,764.8 L939.9,765.1 L944.3,765.4 L948.7,765.7 L953.0,766.0 L957.4,766.3 L961.8,766.6 L966.1,766.9 L970.5,767.2 L974.9,767.4 L979.3,767.7 L983.6,768.0 L988.0,768.2 L992.4,768.5 L996.7,768.8 L1001.1,769.0 L1005.5,769.3 L1009.8,769.5 L1014.2,769.8 L1018.6,770.0 L1023.0,770.3 L1027.3,770.5 L1031.7,770.7 L1036.1,771.0 L1040.4,771.2 L1044.8,771.5 L1049.2,771.7 L1053.6,771.9 L1057.9,772.2 L1062.3,772.4 L1066.7,772.6 L1071.0,772.9 L1075.4,773.1 L1079.8,773.3 L1084.2,773.5 L1088.5,773.7 L1092.9,773.9 L1097.3,774.2 L1101.6,774.4 L1106.0,774.6 L1110.4,774.8 L1114.8,775.0 L1119.1,775.2 L1123.5,775.3 L1127.9,775.5 L1132.2,775.7 L1136.6,775.9 L1141.0,776.1 L1145.3,776.3 L1149.7,776.5 L1154.1,776.7 L1158.5,776.9 L1162.8,777.1 L1167.2,777.3 L1171.6,777.5 L1175.9,777.6 L1180.3,777.8 L1184.7,778.0 L1189.1,778.2 L1193.4,778.4 L1197.8,778.6 L1202.2,778.7 L1206.5,778.9 L1210.9,779.1 L1215.3,779.3 L1219.7,779.5 L1224.0,779.6 L1228.4,779.8 L1232.8,780.0 L1237.1,780.1 L1241.5,780.3 L1245.9,780.5 L1250.3,780.6 L1254.6,780.8 L1259.0,781.0 L1263.4,781.1 L1267.7,781.3 L1272.1,781.4 L1276.5,781.6 L1280.8,781.8 L1285.2,781.9 L1289.6,782.1 L1294.0,782.2 L1298.3,782.4 L1302.7,782.5 L1307.1,782.6 L1311.4,782.8 L1315.8,782.9 L1320.2,783.1 L1324.6,783.2 L1328.9,783.4 L1333.3,783.5 L1337.7,783.6 L1342.0,783.8 L1346.4,783.9 L1350.8,784.1 L1355.2,784.2 L1359.5,784.3 L1363.9,784.4 L1368.3,784.6 L1372.6,784.7 L1377.0,784.8 L1381.4,784.9 L1385.7,785.1 L1390.1,785.2 L1394.5,785.3 L1398.9,785.4 L1403.2,785.5 L1407.6,785.7 L1412.0,785.8 L1416.3,785.9 L1420.7,786.0 L1425.1,786.1 L1429.5,786.2 L1433.8,786.3 L1438.2,786.4 L1442.6,786.5 L1446.9,786.6 L1451.3,786.7 L1455.7,786.8 L1460.1,786.9 L1464.4,787.0 L1468.8,787.0 L1473.2,787.1 L1477.5,787.2 L1481.9,787.3 L1486.3,787.4 L1490.7,787.5 L1495.0,787.6 L1499.4,787.6 L1503.8,787.7 L1508.1,787.8 L1512.5,787.9 L1516.9,787.9 L1521.2,788.0 L1525.6,788.1 L1530.0,788.2 L1534.4,788.2 L1538.7,788.3 L1543.1,788.4 L1547.5,788.5 L1551.8,788.5 L1556.2,788.6 L1560.6,788.7 L1565.0,788.7 L1569.3,788.8 L1573.7,788.9 L1578.1,788.9 L1582.4,789.0 L1586.8,789.1 L1591.2,789.1 L1595.6,789.2 L1599.9,789.3 L1604.3,789.3 L1608.7,789.4 L1613.0,789.5 L1617.4,789.5 L1621.8,789.6 L1626.2,789.7 L1630.5,789.8 L1634.9,789.9 L1639.3,790.0 L1643.6,790.0 L1648.0,790.1 L1652.4,790.2 L1656.7,790.3 L1661.1,790.3 L1665.5,790.4 L1669.9,790.4 L1674.2,790.5 L1678.6,790.5 L1683.0,790.6 L1687.3,790.6 L1691.7,790.7 L1696.1,790.7 L1700.5,790.8 L1704.8,790.8 L1709.2,790.9 L1713.6,790.9 L1717.9,790.9 L1722.3,791.0 L1726.7,791.0 L1731.1,791.1 L1735.4,791.1 L1739.8,791.1 L1744.2,791.2 L1748.5,791.2 L1752.9,791.2 L1757.3,791.3 L1761.6,791.3 L1766.0,791.4 L1770.4,791.4 L1774.8,791.4 L1779.1,791.5 L1783.5,791.5 L1787.9,791.5 L1792.2,791.6 L1796.6,791.6 L1801.0,791.7 L1805.4,791.7 L1809.7,791.7 L1814.1,791.8 L1818.5,791.8 L1822.8,791.8 L1827.2,791.9 L1831.6,791.9 L1836.0,792.0 L1840.3,792.0 L1844.7,792.0 L1849.1,792.1 L1853.4,792.1 L1857.8,792.1 L1862.2,792.2 L1866.6,792.2 L1870.9,792.3 L1875.3,792.3 L1879.7,792.3 L1884.0,792.4 L1888.4,792.4 L1892.8,792.4 L1897.1,792.5 L1901.5,792.5 L1905.9,792.6 L1910.3,792.6 L1914.6,792.6 L1919.0,792.7 L1923.4,792.7 L1927.7,792.8 L1932.1,792.8 L1936.5,792.8 L1940.9,792.9 L1945.2,792.9 L1949.6,792.9 L1954.0,793.0 L1958.3,793.0 L1962.7,793.0 L1967.1,793.1 L1971.5,793.1 L1975.8,793.1 L1980.2,793.2 L1984.6,793.2 L1988.9,793.2 L1993.3,793.3 L1997.7,793.3 L2002.1,793.3 L2006.4,793.3 L2010.8,793.4 L2015.2,793.4 L2019.5,793.4 L2023.9,793.5 L2028.3,793.5 L2032.6,793.5 L2037.0,793.6 L2041.4,793.6 L2045.8,793.6 L2050.1,793.6 L2054.5,793.7 L2058.9,793.7 L2063.2,793.7 L2067.6,793.8 L2072.0,793.8 L2076.4,793.8 L2080.7,793.8 L2085.1,793.9 L2089.5,793.9 L2093.8,793.9 L2098.2,793.9 L2102.6,794.0 L2107.0,794.0 L2111.3,794.0 L2115.7,794.0 L2120.1,794.0 L2124.4,794.1 L2128.8,794.1 L2133.2,794.1 L2137.5,794.1 L2141.9,794.1 L2146.3,794.2 L2150.7,794.2 L2155.0,794.2 L2159.4,794.2 L2163.8,794.2 L2168.1,794.2 L2172.5,794.2 L2176.9,794.3 L2181.3,794.3 L2185.6,794.3 L2190.0,794.3" fill="none" stroke="#d6725f" stroke-width="8.3" stroke-linejoin="round"/>
<path d="M446.0,702.2V726.2 M492.0,707.5V731.5 M548.4,717.5V741.5 M608.0,723.2V747.2 M677.3,725.0V749.0 M731.6,738.4V762.4 M789.6,741.0V765.0 M852.3,746.0V770.0 M910.7,749.8V773.8 M967.8,756.7V780.7 M1027.3,756.4V780.4 M1083.7,760.2V784.2 M1142.8,766.1V790.1 M1201.1,768.6V792.6 M1259.7,771.5V795.5 M1317.8,773.4V797.4 M1376.1,775.4V799.4 M1434.2,775.2V799.2 M1492.0,776.0V800.0 M1550.4,777.0V801.0 M1608.7,777.7V801.7 M1666.6,778.6V802.6 M1724.8,779.2V803.2 M1783.0,779.7V803.7 M1841.1,780.2V804.2 M1899.3,780.7V804.7 M1957.5,781.2V805.2 M2015.6,781.6V805.6 M2073.7,782.0V806.0 M2131.9,782.3V806.3 M2190.0,782.5V806.5" fill="none" stroke="#d6725f" stroke-width="8.6"/>
<circle cx="446.0" cy="714.0" r="10.8" fill="#d6725f"/>
<circle cx="492.0" cy="719.3" r="10.8" fill="#d6725f"/>
<circle cx="548.4" cy="729.3" r="10.8" fill="#d6725f"/>
<circle cx="608.0" cy="735.0" r="10.8" fill="#d6725f"/>
<circle cx="677.3" cy="736.8" r="10.8" fill="#d6725f"/>
<circle cx="731.6" cy="750.2" r="10.8" fill="#d6725f"/>
<circle cx="789.6" cy="752.8" r="10.8" fill="#d6725f"/>
<circle cx="852.3" cy="757.8" r="10.8" fill="#d6725f"/>
<circle cx="910.7" cy="761.6" r="10.8" fill="#d6725f"/>
<circle cx="967.8" cy="768.5" r="10.8" fill="#d6725f"/>
<circle cx="1027.3" cy="768.2" r="10.8" fill="#d6725f"/>
<circle cx="1083.7" cy="772.0" r="10.8" fill="#d6725f"/>
<circle cx="1142.8" cy="777.9" r="10.8" fill="#d6725f"/>
<circle cx="1201.1" cy="780.4" r="10.8" fill="#d6725f"/>
<circle cx="1259.7" cy="783.3" r="10.8" fill="#d6725f"/>
<circle cx="1317.8" cy="785.2" r="10.8" fill="#d6725f"/>
<circle cx="1376.1" cy="787.2" r="10.8" fill="#d6725f"/>
<circle cx="1434.2" cy="787.0" r="10.8" fill="#d6725f"/>
<circle cx="1492.0" cy="787.8" r="10.8" fill="#d6725f"/>
<circle cx="1550.4" cy="788.8" r="10.8" fill="#d6725f"/>
<circle cx="1608.7" cy="789.5" r="10.8" fill="#d6725f"/>
<circle cx="1666.6" cy="790.4" r="10.8" fill="#d6725f"/>
<circle cx="1724.8" cy="791.0" r="10.8" fill="#d6725f"/>
<circle cx="1783.0" cy="791.5" r="10.8" fill="#d6725f"/>
<circle cx="1841.1" cy="792.0" r="10.8" fill="#d6725f"/>
<circle cx="1899.3" cy="792.5" r="10.8" fill="#d6725f"/>
<circle cx="1957.5" cy="793.0" r="10.8" fill="#d6725f"/>
<circle cx="2015.6" cy="793.4" r="10.8" fill="#d6725f"/>
<circle cx="2073.7" cy="793.8" r="10.8" fill="#d6725f"/>
<circle cx="2131.9" cy="794.1" r="10.8" fill="#d6725f"/>
<circle cx="2190.0" cy="794.3" r="10.8" fill="#d6725f"/>
</g>
<g>
<path d="M446.0,713.0 L450.4,713.2 L454.7,713.4 L459.1,713.7 L463.5,713.9 L467.9,714.1 L472.2,714.4 L476.6,714.6 L481.0,714.9 L485.3,715.1 L489.7,715.4 L494.1,715.6 L498.5,715.9 L502.8,716.1 L507.2,716.4 L511.6,716.7 L515.9,716.9 L520.3,717.2 L524.7,717.5 L529.0,717.8 L533.4,718.0 L537.8,718.3 L542.2,718.6 L546.5,718.9 L550.9,719.2 L555.3,719.5 L559.6,719.8 L564.0,720.1 L568.4,720.4 L572.8,720.7 L577.1,721.0 L581.5,721.3 L585.9,721.6 L590.2,721.9 L594.6,722.2 L599.0,722.4 L603.4,722.7 L607.7,723.0 L612.1,723.2 L616.5,723.5 L620.8,723.7 L625.2,723.9 L629.6,724.2 L633.9,724.4 L638.3,724.6 L642.7,724.8 L647.1,725.0 L651.4,725.3 L655.8,725.5 L660.2,725.7 L664.5,725.9 L668.9,726.1 L673.3,726.3 L677.7,726.5 L682.0,726.7 L686.4,726.9 L690.8,727.2 L695.1,727.4 L699.5,727.6 L703.9,727.8 L708.3,728.0 L712.6,728.2 L717.0,728.4 L721.4,728.6 L725.7,728.8 L730.1,728.9 L734.5,729.1 L738.9,729.3 L743.2,729.4 L747.6,729.6 L752.0,729.7 L756.3,729.8 L760.7,730.0 L765.1,730.1 L769.4,730.2 L773.8,730.4 L778.2,730.5 L782.6,730.6 L786.9,730.7 L791.3,730.8 L795.7,731.0 L800.0,731.1 L804.4,731.2 L808.8,731.3 L813.2,731.4 L817.5,731.5 L821.9,731.6 L826.3,731.7 L830.6,731.8 L835.0,731.8 L839.4,731.9 L843.8,732.0 L848.1,732.1 L852.5,732.2 L856.9,732.3 L861.2,732.4 L865.6,732.5 L870.0,732.6 L874.4,732.6 L878.7,732.7 L883.1,732.8 L887.5,732.9 L891.8,733.0 L896.2,733.0 L900.6,733.1 L904.9,733.2 L909.3,733.3 L913.7,733.4 L918.1,733.4 L922.4,733.5 L926.8,733.6 L931.2,733.6 L935.5,733.7 L939.9,733.8 L944.3,733.8 L948.7,733.9 L953.0,734.0 L957.4,734.0 L961.8,734.1 L966.1,734.2 L970.5,734.2 L974.9,734.3 L979.3,734.4 L983.6,734.4 L988.0,734.5 L992.4,734.5 L996.7,734.6 L1001.1,734.6 L1005.5,734.7 L1009.8,734.8 L1014.2,734.8 L1018.6,734.9 L1023.0,734.9 L1027.3,735.0 L1031.7,735.1 L1036.1,735.1 L1040.4,735.2 L1044.8,735.3 L1049.2,735.4 L1053.6,735.5 L1057.9,735.6 L1062.3,735.7 L1066.7,735.7 L1071.0,735.8 L1075.4,735.9 L1079.8,736.0 L1084.2,736.0 L1088.5,736.1 L1092.9,736.1 L1097.3,736.1 L1101.6,736.2 L1106.0,736.2 L1110.4,736.2 L1114.8,736.3 L1119.1,736.3 L1123.5,736.3 L1127.9,736.4 L1132.2,736.4 L1136.6,736.4 L1141.0,736.5 L1145.3,736.5 L1149.7,736.6 L1154.1,736.6 L1158.5,736.6 L1162.8,736.7 L1167.2,736.7 L1171.6,736.8 L1175.9,736.8 L1180.3,736.9 L1184.7,736.9 L1189.1,736.9 L1193.4,737.0 L1197.8,737.0 L1202.2,737.0 L1206.5,737.0 L1210.9,737.0 L1215.3,737.1 L1219.7,737.1 L1224.0,737.1 L1228.4,737.1 L1232.8,737.1 L1237.1,737.1 L1241.5,737.1 L1245.9,737.2 L1250.3,737.2 L1254.6,737.2 L1259.0,737.2 L1263.4,737.2 L1267.7,737.2 L1272.1,737.2 L1276.5,737.3 L1280.8,737.3 L1285.2,737.3 L1289.6,737.3 L1294.0,737.3 L1298.3,737.3 L1302.7,737.4 L1307.1,737.4 L1311.4,737.4 L1315.8,737.4 L1320.2,737.4 L1324.6,737.4 L1328.9,737.4 L1333.3,737.4 L1337.7,737.4 L1342.0,737.4 L1346.4,737.5 L1350.8,737.5 L1355.2,737.5 L1359.5,737.5 L1363.9,737.5 L1368.3,737.5 L1372.6,737.5 L1377.0,737.5 L1381.4,737.5 L1385.7,737.5 L1390.1,737.5 L1394.5,737.5 L1398.9,737.5 L1403.2,737.5 L1407.6,737.6 L1412.0,737.6 L1416.3,737.6 L1420.7,737.6 L1425.1,737.6 L1429.5,737.6 L1433.8,737.6 L1438.2,737.6 L1442.6,737.6 L1446.9,737.6 L1451.3,737.6 L1455.7,737.6 L1460.1,737.6 L1464.4,737.7 L1468.8,737.7 L1473.2,737.7 L1477.5,737.7 L1481.9,737.7 L1486.3,737.7 L1490.7,737.7 L1495.0,737.7 L1499.4,737.7 L1503.8,737.7 L1508.1,737.7 L1512.5,737.7 L1516.9,737.8 L1521.2,737.8 L1525.6,737.8 L1530.0,737.8 L1534.4,737.8 L1538.7,737.8 L1543.1,737.8 L1547.5,737.8 L1551.8,737.8 L1556.2,737.8 L1560.6,737.8 L1565.0,737.8 L1569.3,737.8 L1573.7,737.8 L1578.1,737.8 L1582.4,737.8 L1586.8,737.8 L1591.2,737.8 L1595.6,737.8 L1599.9,737.8 L1604.3,737.8 L1608.7,737.8 L1613.0,737.8 L1617.4,737.8 L1621.8,737.8 L1626.2,737.8 L1630.5,737.8 L1634.9,737.8 L1639.3,737.9 L1643.6,737.9 L1648.0,737.9 L1652.4,737.9 L1656.7,737.9 L1661.1,737.9 L1665.5,737.9 L1669.9,737.9 L1674.2,737.9 L1678.6,737.9 L1683.0,737.9 L1687.3,737.9 L1691.7,737.9 L1696.1,737.9 L1700.5,737.9 L1704.8,737.9 L1709.2,737.9 L1713.6,737.9 L1717.9,737.9 L1722.3,737.9 L1726.7,737.9 L1731.1,737.9 L1735.4,737.9 L1739.8,737.9 L1744.2,737.9 L1748.5,737.9 L1752.9,737.9 L1757.3,738.0 L1761.6,738.0 L1766.0,738.0 L1770.4,738.0 L1774.8,738.0 L1779.1,738.0 L1783.5,738.0 L1787.9,738.0 L1792.2,738.0 L1796.6,738.0 L1801.0,738.0 L1805.4,738.0 L1809.7,738.0 L1814.1,738.0 L1818.5,738.0 L1822.8,738.0 L1827.2,738.0 L1831.6,738.0 L1836.0,738.0 L1840.3,738.0 L1844.7,738.0 L1849.1,738.0 L1853.4,738.0 L1857.8,738.0 L1862.2,738.0 L1866.6,738.0 L1870.9,738.0 L1875.3,738.0 L1879.7,738.0 L1884.0,738.0 L1888.4,738.0 L1892.8,738.0 L1897.1,738.0 L1901.5,738.0 L1905.9,738.0 L1910.3,738.0 L1914.6,738.0 L1919.0,738.0 L1923.4,738.0 L1927.7,738.0 L1932.1,738.0 L1936.5,738.0 L1940.9,738.0 L1945.2,738.0 L1949.6,738.0 L1954.0,738.0 L1958.3,738.0 L1962.7,738.0 L1967.1,738.0 L1971.5,738.0 L1975.8,738.0 L1980.2,738.0 L1984.6,738.0 L1988.9,738.0 L1993.3,738.0 L1997.7,738.0 L2002.1,738.0 L2006.4,738.0 L2010.8,738.0 L2015.2,738.0 L2019.5,738.0 L2023.9,738.0 L2028.3,738.0 L2032.6,738.0 L2037.0,738.0 L2041.4,738.0 L2045.8,738.0 L2050.1,738.0 L2054.5,738.0 L2058.9,738.0 L2063.2,738.0 L2067.6,738.0 L2072.0,738.0 L2076.4,738.0 L2080.7,738.0 L2085.1,738.0 L2089.5,738.0 L2093.8,738.0 L2098.2,738.0 L2102.6,738.0 L2107.0,738.0 L2111.3,738.0 L2115.7,738.0 L2120.1,738.0 L2124.4,738.0 L2128.8,738.0 L2133.2,738.0 L2137.5,738.0 L2141.9,738.0 L2146.3,738.0 L2150.7,738.0 L2155.0,738.0 L2159.4,738.0 L2163.8,738.0 L2168.1,738.0 L2172.5,738.0 L2176.9,738.0 L2181.3,738.0 L2185.6,738.0 L2190.0,738.0" fill="none" stroke="#e6a67a" stroke-width="8.3" stroke-linejoin="round"/>
<path d="M446.0,704.1V720.1 M492.0,704.7V720.7 M548.4,710.4V726.4 M608.0,713.5V729.5 M677.3,713.5V729.5 M731.6,720.4V736.4 M789.6,722.1V738.1 M852.3,723.6V739.6 M910.7,725.1V741.1 M967.8,726.1V742.1 M1027.3,727.1V743.1 M1083.7,728.1V744.1 M1142.8,728.6V744.6 M1201.1,729.1V745.1 M1259.7,729.3V745.3 M1317.8,729.5V745.5 M1376.1,729.6V745.6 M1434.2,729.7V745.7 M1492.0,729.8V745.8 M1550.4,729.9V745.9 M1608.7,729.9V745.9 M1666.6,730.0V746.0 M1724.8,730.0V746.0 M1783.0,730.1V746.1 M1841.1,730.1V746.1 M1899.3,730.1V746.1 M1957.5,730.1V746.1 M2015.6,730.1V746.1 M2073.7,730.1V746.1 M2131.9,730.1V746.1 M2190.0,730.1V746.1" fill="none" stroke="#e6a67a" stroke-width="8.6"/>
<circle cx="446.0" cy="712.0" r="10.8" fill="#e6a67a"/>
<circle cx="492.0" cy="712.6" r="10.8" fill="#e6a67a"/>
<circle cx="548.4" cy="718.3" r="10.8" fill="#e6a67a"/>
<circle cx="608.0" cy="721.4" r="10.8" fill="#e6a67a"/>
<circle cx="677.3" cy="721.4" r="10.8" fill="#e6a67a"/>
<circle cx="731.6" cy="728.3" r="10.8" fill="#e6a67a"/>
<circle cx="789.6" cy="730.0" r="10.8" fill="#e6a67a"/>
<circle cx="852.3" cy="731.5" r="10.8" fill="#e6a67a"/>
<circle cx="910.7" cy="733.0" r="10.8" fill="#e6a67a"/>
<circle cx="967.8" cy="734.0" r="10.8" fill="#e6a67a"/>
<circle cx="1027.3" cy="735.0" r="10.8" fill="#e6a67a"/>
<circle cx="1083.7" cy="736.0" r="10.8" fill="#e6a67a"/>
<circle cx="1142.8" cy="736.5" r="10.8" fill="#e6a67a"/>
<circle cx="1201.1" cy="737.0" r="10.8" fill="#e6a67a"/>
<circle cx="1259.7" cy="737.2" r="10.8" fill="#e6a67a"/>
<circle cx="1317.8" cy="737.4" r="10.8" fill="#e6a67a"/>
<circle cx="1376.1" cy="737.5" r="10.8" fill="#e6a67a"/>
<circle cx="1434.2" cy="737.6" r="10.8" fill="#e6a67a"/>
<circle cx="1492.0" cy="737.7" r="10.8" fill="#e6a67a"/>
<circle cx="1550.4" cy="737.8" r="10.8" fill="#e6a67a"/>
<circle cx="1608.7" cy="737.8" r="10.8" fill="#e6a67a"/>
<circle cx="1666.6" cy="737.9" r="10.8" fill="#e6a67a"/>
<circle cx="1724.8" cy="737.9" r="10.8" fill="#e6a67a"/>
<circle cx="1783.0" cy="738.0" r="10.8" fill="#e6a67a"/>
<circle cx="1841.1" cy="738.0" r="10.8" fill="#e6a67a"/>
<circle cx="1899.3" cy="738.0" r="10.8" fill="#e6a67a"/>
<circle cx="1957.5" cy="738.0" r="10.8" fill="#e6a67a"/>
<circle cx="2015.6" cy="738.0" r="10.8" fill="#e6a67a"/>
<circle cx="2073.7" cy="738.0" r="10.8" fill="#e6a67a"/>
<circle cx="2131.9" cy="738.0" r="10.8" fill="#e6a67a"/>
<circle cx="2190.0" cy="738.0" r="10.8" fill="#e6a67a"/>
</g>
</g>
<rect x="1515" y="137" width="655.1" height="430" rx="8.5" ry="8.5" fill="#fffcf3" fill-opacity="0.8" stroke="#cdcdcb" stroke-width="5"/>
<path d="M1610.8,155.5V223.7" stroke="#000" stroke-width="8.6" fill="none"/>
<circle cx="1610.8" cy="189.2" r="11.3" fill="#000"/>
<path d="M1541.9,292.2H1680.5" stroke="#555" stroke-width="8.6" stroke-dasharray="9.3 13.2" fill="none"/>
<path d="M1538,394.4H1683" stroke="#555" stroke-width="9" fill="none"/>
<path d="M1541.9,496.3H1680.5" stroke="#4573e6" stroke-width="9" stroke-dasharray="32 13.1" fill="none"/>
<rect x="446.0" y="122.0" width="1744.0" height="919.0" fill="none" stroke="#000" stroke-width="4.2"/>
<path clip-path="url(#ax)" d="M446.0,718.9 L450.4,719.3 L454.7,719.8 L459.1,720.2 L463.5,720.7 L467.9,721.1 L472.2,721.6 L476.6,722.0 L481.0,722.5 L485.3,722.9 L489.7,723.4 L494.1,723.8 L498.5,724.3 L502.8,724.7 L507.2,725.2 L511.6,725.7 L515.9,726.2 L520.3,726.6 L524.7,727.1 L529.0,727.6 L533.4,728.0 L537.8,728.5 L542.2,729.0 L546.5,729.4 L550.9,729.9 L555.3,730.3 L559.6,730.7 L564.0,731.1 L568.4,731.6 L572.8,732.0 L577.1,732.4 L581.5,732.8 L585.9,733.2 L590.2,733.6 L594.6,734.0 L599.0,734.4 L603.4,734.9 L607.7,735.3 L612.1,735.7 L616.5,736.1 L620.8,736.5 L625.2,737.0 L629.6,737.4 L633.9,737.8 L638.3,738.2 L642.7,738.7 L647.1,739.1 L651.4,739.5 L655.8,739.9 L660.2,740.4 L664.5,740.8 L668.9,741.2 L673.3,741.6 L677.7,742.0 L682.0,742.4 L686.4,742.8 L690.8,743.3 L695.1,743.7 L699.5,744.1 L703.9,744.5 L708.3,744.8 L712.6,745.2 L717.0,745.6 L721.4,746.0 L725.7,746.5 L730.1,746.9 L734.5,747.3 L738.9,747.7 L743.2,748.1 L747.6,748.5 L752.0,748.9 L756.3,749.4 L760.7,749.8 L765.1,750.2 L769.4,750.6 L773.8,751.0 L778.2,751.5 L782.6,751.9 L786.9,752.3 L791.3,752.7 L795.7,753.0 L800.0,753.4 L804.4,753.8 L808.8,754.2 L813.2,754.5 L817.5,754.9 L821.9,755.3 L826.3,755.6 L830.6,756.0 L835.0,756.3 L839.4,756.7 L843.8,757.1 L848.1,757.4 L852.5,757.8 L856.9,758.2 L861.2,758.6 L865.6,758.9 L870.0,759.3 L874.4,759.7 L878.7,760.1 L883.1,760.4 L887.5,760.8 L891.8,761.2 L896.2,761.6 L900.6,761.9 L904.9,762.3 L909.3,762.7 L913.7,763.1 L918.1,763.4 L922.4,763.8 L926.8,764.2 L931.2,764.5 L935.5,764.9 L939.9,765.3 L944.3,765.6 L948.7,766.0 L953.0,766.3 L957.4,766.7 L961.8,767.0 L966.1,767.4 L970.5,767.7 L974.9,768.0 L979.3,768.4 L983.6,768.7 L988.0,769.0 L992.4,769.3 L996.7,769.6 L1001.1,769.9 L1005.5,770.2 L1009.8,770.5 L1014.2,770.9 L1018.6,771.2 L1023.0,771.5 L1027.3,771.8 L1031.7,772.1 L1036.1,772.5 L1040.4,772.8 L1044.8,773.1 L1049.2,773.5 L1053.6,773.8 L1057.9,774.1 L1062.3,774.5 L1066.7,774.8 L1071.0,775.1 L1075.4,775.4 L1079.8,775.7 L1084.2,776.0 L1088.5,776.3 L1092.9,776.6 L1097.3,776.9 L1101.6,777.1 L1106.0,777.4 L1110.4,777.6 L1114.8,777.9 L1119.1,778.1 L1123.5,778.4 L1127.9,778.6 L1132.2,778.9 L1136.6,779.1 L1141.0,779.4 L1145.3,779.6 L1149.7,779.9 L1154.1,780.2 L1158.5,780.4 L1162.8,780.7 L1167.2,780.9 L1171.6,781.2 L1175.9,781.4 L1180.3,781.7 L1184.7,781.9 L1189.1,782.2 L1193.4,782.4 L1197.8,782.6 L1202.2,782.9 L1206.5,783.1 L1210.9,783.3 L1215.3,783.5 L1219.7,783.8 L1224.0,784.0 L1228.4,784.2 L1232.8,784.4 L1237.1,784.6 L1241.5,784.8 L1245.9,785.0 L1250.3,785.3 L1254.6,785.5 L1259.0,785.7 L1263.4,785.9 L1267.7,786.1 L1272.1,786.3 L1276.5,786.5 L1280.8,786.7 L1285.2,786.9 L1289.6,787.1 L1294.0,787.3 L1298.3,787.5 L1302.7,787.7 L1307.1,787.8 L1311.4,788.0 L1315.8,788.2 L1320.2,788.4 L1324.6,788.6 L1328.9,788.8 L1333.3,788.9 L1337.7,789.1 L1342.0,789.3 L1346.4,789.5 L1350.8,789.6 L1355.2,789.8 L1359.5,790.0 L1363.9,790.1 L1368.3,790.3 L1372.6,790.5 L1377.0,790.6 L1381.4,790.8 L1385.7,791.0 L1390.1,791.1 L1394.5,791.3 L1398.9,791.4 L1403.2,791.6 L1407.6,791.7 L1412.0,791.9 L1416.3,792.0 L1420.7,792.2 L1425.1,792.3 L1429.5,792.4 L1433.8,792.6 L1438.2,792.7 L1442.6,792.9 L1446.9,793.0 L1451.3,793.2 L1455.7,793.3 L1460.1,793.4 L1464.4,793.6 L1468.8,793.7 L1473.2,793.8 L1477.5,794.0 L1481.9,794.1 L1486.3,794.2 L1490.7,794.4 L1495.0,794.5 L1499.4,794.6 L1503.8,794.7 L1508.1,794.9 L1512.5,795.0 L1516.9,795.1 L1521.2,795.2 L1525.6,795.3 L1530.0,795.5 L1534.4,795.6 L1538.7,795.7 L1543.1,795.8 L1547.5,795.9 L1551.8,796.0 L1556.2,796.2 L1560.6,796.3 L1565.0,796.4 L1569.3,796.5 L1573.7,796.6 L1578.1,796.7 L1582.4,796.8 L1586.8,797.0 L1591.2,797.1 L1595.6,797.2 L1599.9,797.3 L1604.3,797.4 L1608.7,797.5 L1613.0,797.6 L1617.4,797.7 L1621.8,797.8 L1626.2,797.9 L1630.5,798.0 L1634.9,798.1 L1639.3,798.2 L1643.6,798.3 L1648.0,798.4 L1652.4,798.5 L1656.7,798.6 L1661.1,798.7 L1665.5,798.8 L1669.9,798.9 L1674.2,799.0 L1678.6,799.0 L1683.0,799.1 L1687.3,799.2 L1691.7,799.3 L1696.1,799.4 L1700.5,799.5 L1704.8,799.5 L1709.2,799.6 L1713.6,799.7 L1717.9,799.8 L1722.3,799.9 L1726.7,799.9 L1731.1,800.0 L1735.4,800.1 L1739.8,800.1 L1744.2,800.2 L1748.5,800.3 L1752.9,800.4 L1757.3,800.4 L1761.6,800.5 L1766.0,800.6 L1770.4,800.6 L1774.8,800.7 L1779.1,800.7 L1783.5,800.8 L1787.9,800.9 L1792.2,800.9 L1796.6,801.0 L1801.0,801.1 L1805.4,801.1 L1809.7,801.2 L1814.1,801.2 L1818.5,801.3 L1822.8,801.4 L1827.2,801.4 L1831.6,801.5 L1836.0,801.5 L1840.3,801.6 L1844.7,801.6 L1849.1,801.7 L1853.4,801.7 L1857.8,801.8 L1862.2,801.8 L1866.6,801.9 L1870.9,801.9 L1875.3,802.0 L1879.7,802.0 L1884.0,802.1 L1888.4,802.1 L1892.8,802.1 L1897.1,802.2 L1901.5,802.2 L1905.9,802.3 L1910.3,802.3 L1914.6,802.3 L1919.0,802.4 L1923.4,802.4 L1927.7,802.5 L1932.1,802.5 L1936.5,802.5 L1940.9,802.6 L1945.2,802.6 L1949.6,802.6 L1954.0,802.7 L1958.3,802.7 L1962.7,802.7 L1967.1,802.8 L1971.5,802.8 L1975.8,802.8 L1980.2,802.9 L1984.6,802.9 L1988.9,802.9 L1993.3,803.0 L1997.7,803.0 L2002.1,803.0 L2006.4,803.0 L2010.8,803.1 L2015.2,803.1 L2019.5,803.1 L2023.9,803.1 L2028.3,803.2 L2032.6,803.2 L2037.0,803.2 L2041.4,803.2 L2045.8,803.3 L2050.1,803.3 L2054.5,803.3 L2058.9,803.3 L2063.2,803.4 L2067.6,803.4 L2072.0,803.4 L2076.4,803.4 L2080.7,803.4 L2085.1,803.4 L2089.5,803.5 L2093.8,803.5 L2098.2,803.5 L2102.6,803.5 L2107.0,803.5 L2111.3,803.5 L2115.7,803.6 L2120.1,803.6 L2124.4,803.6 L2128.8,803.6 L2133.2,803.6 L2137.5,803.6 L2141.9,803.6 L2146.3,803.6 L2150.7,803.6 L2155.0,803.6 L2159.4,803.7 L2163.8,803.7 L2168.1,803.7 L2172.5,803.7 L2176.9,803.7 L2181.3,803.7 L2185.6,803.7 L2190.0,803.7" fill="none" stroke="#4573e6" stroke-width="10.6" stroke-dasharray="41.8 18.28" stroke-dashoffset="-1.5"/>
<line x1="446.0" x2="446.0" y1="1041.0" y2="1061.8" stroke="#000" stroke-width="4.6"/>
<line x1="1027.3" x2="1027.3" y1="1041.0" y2="1061.8" stroke="#000" stroke-width="4.6"/>
<line x1="1608.7" x2="1608.7" y1="1041.0" y2="1061.8" stroke="#000" stroke-width="4.6"/>
<line x1="2190.0" x2="2190.0" y1="1041.0" y2="1061.8" stroke="#000" stroke-width="4.6"/>
<line x1="621.0" x2="621.0" y1="1041.0" y2="1053.5" stroke="#000" stroke-width="3.3"/>
<line x1="723.4" x2="723.4" y1="1041.0" y2="1053.5" stroke="#000" stroke-width="3.3"/>
<line x1="796.0" x2="796.0" y1="1041.0" y2="1053.5" stroke="#000" stroke-width="3.3"/>
<line x1="852.3" x2="852.3" y1="1041.0" y2="1053.5" stroke="#000" stroke-width="3.3"/>
<line x1="898.4" x2="898.4" y1="1041.0" y2="1053.5" stroke="#000" stroke-width="3.3"/>
<line x1="937.3" x2="937.3" y1="1041.0" y2="1053.5" stroke="#000" stroke-width="3.3"/>
<line x1="971.0" x2="971.0" y1="1041.0" y2="1053.5" stroke="#000" stroke-width="3.3"/>
<line x1="1000.7" x2="1000.7" y1="1041.0" y2="1053.5" stroke="#000" stroke-width="3.3"/>
<line x1="1202.3" x2="1202.3" y1="1041.0" y2="1053.5" stroke="#000" stroke-width="3.3"/>
<line x1="1304.7" x2="1304.7" y1="1041.0" y2="1053.5" stroke="#000" stroke-width="3.3"/>
<line x1="1377.3" x2="1377.3" y1="1041.0" y2="1053.5" stroke="#000" stroke-width="3.3"/>
<line x1="1433.7" x2="1433.7" y1="1041.0" y2="1053.5" stroke="#000" stroke-width="3.3"/>
<line x1="1479.7" x2="1479.7" y1="1041.0" y2="1053.5" stroke="#000" stroke-width="3.3"/>
<line x1="1518.6" x2="1518.6" y1="1041.0" y2="1053.5" stroke="#000" stroke-width="3.3"/>
<line x1="1552.3" x2="1552.3" y1="1041.0" y2="1053.5" stroke="#000" stroke-width="3.3"/>
<line x1="1582.1" x2="1582.1" y1="1041.0" y2="1053.5" stroke="#000" stroke-width="3.3"/>
<line x1="1783.7" x2="1783.7" y1="1041.0" y2="1053.5" stroke="#000" stroke-width="3.3"/>
<line x1="1886.0" x2="1886.0" y1="1041.0" y2="1053.5" stroke="#000" stroke-width="3.3"/>
<line x1="1958.7" x2="1958.7" y1="1041.0" y2="1053.5" stroke="#000" stroke-width="3.3"/>
<line x1="2015.0" x2="2015.0" y1="1041.0" y2="1053.5" stroke="#000" stroke-width="3.3"/>
<line x1="2061.0" x2="2061.0" y1="1041.0" y2="1053.5" stroke="#000" stroke-width="3.3"/>
<line x1="2100.0" x2="2100.0" y1="1041.0" y2="1053.5" stroke="#000" stroke-width="3.3"/>
<line x1="2133.7" x2="2133.7" y1="1041.0" y2="1053.5" stroke="#000" stroke-width="3.3"/>
<line x1="2163.4" x2="2163.4" y1="1041.0" y2="1053.5" stroke="#000" stroke-width="3.3"/>
<line x1="446.0" x2="425.2" y1="675.8" y2="675.8" stroke="#000" stroke-width="4.6"/>
<line x1="446.0" x2="433.5" y1="1041.5" y2="1041.5" stroke="#000" stroke-width="3.3"/>
<line x1="446.0" x2="433.5" y1="952.4" y2="952.4" stroke="#000" stroke-width="3.3"/>
<line x1="446.0" x2="433.5" y1="879.7" y2="879.7" stroke="#000" stroke-width="3.3"/>
<line x1="446.0" x2="433.5" y1="818.1" y2="818.1" stroke="#000" stroke-width="3.3"/>
<line x1="446.0" x2="433.5" y1="764.9" y2="764.9" stroke="#000" stroke-width="3.3"/>
<line x1="446.0" x2="433.5" y1="717.8" y2="717.8" stroke="#000" stroke-width="3.3"/>
<line x1="446.0" x2="433.5" y1="399.1" y2="399.1" stroke="#000" stroke-width="3.3"/>
<line x1="446.0" x2="433.5" y1="237.3" y2="237.3" stroke="#000" stroke-width="3.3"/>
<line x1="446.0" x2="433.5" y1="122.5" y2="122.5" stroke="#000" stroke-width="3.3"/>
<rect x="2252.0" y="240.0" width="98.0" height="801.0" fill="url(#cb)" stroke="#000" stroke-width="4.2"/>
<line x1="2350.0" x2="2370.8" y1="1041.0" y2="1041.0" stroke="#000" stroke-width="4.6"/>
<line x1="2350.0" x2="2370.8" y1="840.8" y2="840.8" stroke="#000" stroke-width="4.6"/>
<line x1="2350.0" x2="2370.8" y1="640.5" y2="640.5" stroke="#000" stroke-width="4.6"/>
<line x1="2350.0" x2="2370.8" y1="440.2" y2="440.2" stroke="#000" stroke-width="4.6"/>
<line x1="2350.0" x2="2370.8" y1="240.0" y2="240.0" stroke="#000" stroke-width="4.6"/>
<line x1="2350.0" x2="2362.5" y1="980.7" y2="980.7" stroke="#000" stroke-width="3.3"/>
<line x1="2350.0" x2="2362.5" y1="945.5" y2="945.5" stroke="#000" stroke-width="3.3"/>
<line x1="2350.0" x2="2362.5" y1="920.4" y2="920.4" stroke="#000" stroke-width="3.3"/>
<line x1="2350.0" x2="2362.5" y1="901.0" y2="901.0" stroke="#000" stroke-width="3.3"/>
<line x1="2350.0" x2="2362.5" y1="885.2" y2="885.2" stroke="#000" stroke-width="3.3"/>
<line x1="2350.0" x2="2362.5" y1="871.8" y2="871.8" stroke="#000" stroke-width="3.3"/>
<line x1="2350.0" x2="2362.5" y1="860.2" y2="860.2" stroke="#000" stroke-width="3.3"/>
<line x1="2350.0" x2="2362.5" y1="849.9" y2="849.9" stroke="#000" stroke-width="3.3"/>
<line x1="2350.0" x2="2362.5" y1="780.5" y2="780.5" stroke="#000" stroke-width="3.3"/>
<line x1="2350.0" x2="2362.5" y1="745.2" y2="745.2" stroke="#000" stroke-width="3.3"/>
<line x1="2350.0" x2="2362.5" y1="720.2" y2="720.2" stroke="#000" stroke-width="3.3"/>
<line x1="2350.0" x2="2362.5" y1="700.8" y2="700.8" stroke="#000" stroke-width="3.3"/>
<line x1="2350.0" x2="2362.5" y1="684.9" y2="684.9" stroke="#000" stroke-width="3.3"/>
<line x1="2350.0" x2="2362.5" y1="671.5" y2="671.5" stroke="#000" stroke-width="3.3"/>
<line x1="2350.0" x2="2362.5" y1="659.9" y2="659.9" stroke="#000" stroke-width="3.3"/>
<line x1="2350.0" x2="2362.5" y1="649.7" y2="649.7" stroke="#000" stroke-width="3.3"/>
<line x1="2350.0" x2="2362.5" y1="580.2" y2="580.2" stroke="#000" stroke-width="3.3"/>
<line x1="2350.0" x2="2362.5" y1="545.0" y2="545.0" stroke="#000" stroke-width="3.3"/>
<line x1="2350.0" x2="2362.5" y1="519.9" y2="519.9" stroke="#000" stroke-width="3.3"/>
<line x1="2350.0" x2="2362.5" y1="500.5" y2="500.5" stroke="#000" stroke-width="3.3"/>
<line x1="2350.0" x2="2362.5" y1="484.7" y2="484.7" stroke="#000" stroke-width="3.3"/>
<line x1="2350.0" x2="2362.5" y1="471.3" y2="471.3" stroke="#000" stroke-width="3.3"/>
<line x1="2350.0" x2="2362.5" y1="459.7" y2="459.7" stroke="#000" stroke-width="3.3"/>
<line x1="2350.0" x2="2362.5" y1="449.4" y2="449.4" stroke="#000" stroke-width="3.3"/>
<line x1="2350.0" x2="2362.5" y1="380.0" y2="380.0" stroke="#000" stroke-width="3.3"/>
<line x1="2350.0" x2="2362.5" y1="344.7" y2="344.7" stroke="#000" stroke-width="3.3"/>
<line x1="2350.0" x2="2362.5" y1="319.7" y2="319.7" stroke="#000" stroke-width="3.3"/>
<line x1="2350.0" x2="2362.5" y1="300.3" y2="300.3" stroke="#000" stroke-width="3.3"/>
<line x1="2350.0" x2="2362.5" y1="284.4" y2="284.4" stroke="#000" stroke-width="3.3"/>
<line x1="2350.0" x2="2362.5" y1="271.0" y2="271.0" stroke="#000" stroke-width="3.3"/>
<line x1="2350.0" x2="2362.5" y1="259.4" y2="259.4" stroke="#000" stroke-width="3.3"/>
<line x1="2350.0" x2="2362.5" y1="249.2" y2="249.2" stroke="#000" stroke-width="3.3"/>
<text transform="translate(190.28,151.30) scale(0.9652,1.0000)" font-size="84">4</text>
<path d="M251.8,113.6L278.6,139.0M278.6,113.6L251.8,139.0" stroke="#000" stroke-width="4.6" fill="none"/>
<text transform="translate(296.34,151.30) scale(1.0014,1.0000)" font-size="84">10</text>
<text transform="translate(378.89,124.90) scale(1.0000,1.0000)" font-size="59">0</text>
<text transform="translate(188.20,266.32) scale(1.0274,1.0000)" font-size="84">3</text>
<path d="M252.2,228.6L279.0,254.0M279.0,228.6L252.2,254.0" stroke="#000" stroke-width="4.6" fill="none"/>
<text transform="translate(296.74,266.32) scale(1.0014,1.0000)" font-size="84">10</text>
<text transform="translate(379.29,239.92) scale(1.0000,1.0000)" font-size="59">0</text>
<text transform="translate(188.48,428.15) scale(1.0707,1.0000)" font-size="84">2</text>
<path d="M252.2,390.4L279.0,415.8M279.0,390.4L252.2,415.8" stroke="#000" stroke-width="4.6" fill="none"/>
<text transform="translate(296.74,428.15) scale(1.0014,1.0000)" font-size="84">10</text>
<text transform="translate(379.29,401.75) scale(1.0000,1.0000)" font-size="59">0</text>
<text transform="translate(286.74,705.40) scale(1.0014,1.0000)" font-size="84">10</text>
<text transform="translate(369.29,679.00) scale(1.0000,1.0000)" font-size="59">0</text>
<text transform="translate(171.42,909.47) scale(1.0025,1.0000)" font-size="84">6</text>
<path d="M234.9,871.8L261.7,897.2M261.7,871.8L234.9,897.2" stroke="#000" stroke-width="4.6" fill="none"/>
<text transform="translate(279.44,909.47) scale(1.0014,1.0000)" font-size="84">10</text>
<rect x="363.5" y="866.7" width="15.2" height="4.5" fill="#000"/>
<text transform="translate(379.54,883.07) scale(1.0000,1.0000)" font-size="59">1</text>
<text transform="translate(172.47,1070.80) scale(0.9703,1.0000)" font-size="84">4</text>
<path d="M234.0,1033.1L260.8,1058.5M260.8,1033.1L234.0,1058.5" stroke="#000" stroke-width="4.6" fill="none"/>
<text transform="translate(278.54,1070.80) scale(1.0014,1.0000)" font-size="84">10</text>
<rect x="362.6" y="1028.0" width="15.2" height="4.5" fill="#000"/>
<text transform="translate(378.64,1044.40) scale(1.0000,1.0000)" font-size="59">1</text>
<text transform="translate(386.04,1135.80) scale(1.0014,1.0000)" font-size="84">10</text>
<text transform="translate(467.34,1109.40) scale(1.0000,1.0000)" font-size="59">1</text>
<text transform="translate(967.37,1135.80) scale(1.0014,1.0000)" font-size="84">10</text>
<text transform="translate(1049.63,1109.40) scale(1.0000,1.0000)" font-size="59">2</text>
<text transform="translate(1548.71,1135.80) scale(1.0014,1.0000)" font-size="84">10</text>
<text transform="translate(1630.66,1109.40) scale(1.0000,1.0000)" font-size="59">3</text>
<text transform="translate(2130.04,1135.80) scale(1.0014,1.0000)" font-size="84">10</text>
<text transform="translate(2213.62,1109.40) scale(1.0000,1.0000)" font-size="59">4</text>
<text transform="translate(2386.84,1067.00) scale(1.0014,1.0000)" font-size="84">10</text>
<rect x="2470.9" y="1024.2" width="15.2" height="4.5" fill="#000"/>
<text transform="translate(2487.70,1040.60) scale(1.0000,1.0000)" font-size="59">3</text>
<text transform="translate(2386.84,866.75) scale(1.0014,1.0000)" font-size="84">10</text>
<rect x="2470.9" y="824.0" width="15.2" height="4.5" fill="#000"/>
<text transform="translate(2487.99,840.35) scale(1.0000,1.0000)" font-size="59">2</text>
<text transform="translate(2386.84,666.50) scale(1.0014,1.0000)" font-size="84">10</text>
<rect x="2470.9" y="623.7" width="15.2" height="4.5" fill="#000"/>
<text transform="translate(2486.94,640.10) scale(1.0000,1.0000)" font-size="59">1</text>
<text transform="translate(2386.84,466.25) scale(1.0014,1.0000)" font-size="84">10</text>
<text transform="translate(2469.39,439.85) scale(1.0000,1.0000)" font-size="59">0</text>
<text transform="translate(2386.84,266.00) scale(1.0014,1.0000)" font-size="84">10</text>
<text transform="translate(2468.14,239.60) scale(1.0000,1.0000)" font-size="59">1</text>
<text transform="translate(523.15,88.30) scale(1.0905,1.0000)" font-size="105">Random</text>
<text transform="translate(936.28,88.30) scale(1.0098,1.0000)" font-size="105">ReLU</text>
<text transform="translate(1220.46,88.30) scale(1.0927,1.0000)" font-size="105">features</text>
<text transform="translate(1702.88,88.30) scale(0.9821,1.0000)" font-size="105">CIFAR10</text>
<text transform="translate(1605.56,77.17) scale(0.7689,0.7185)" font-size="105">@</text>
<text transform="translate(558.83,1263.30) scale(1.1076,1.0000)" font-size="119">number</text>
<text transform="translate(988.63,1263.30) scale(1.0454,1.0000)" font-size="119">of</text>
<text transform="translate(1119.07,1263.30) scale(1.1038,1.0000)" font-size="119">random</text>
<text transform="translate(1548.95,1263.30) scale(1.0781,1.0000)" font-size="119">features</text>
<text transform="translate(1988.22,1263.30) scale(1.0595,1.0000)" font-size="119" font-style="italic">k</text>
<text transform="translate(136.20,702.70) rotate(-90) translate(-3.47,0) scale(1.0424,1)" font-size="121">M</text>
<text transform="translate(136.20,702.70) rotate(-90) translate(101.33,0) scale(1.0497,1)" font-size="121">S</text>
<text transform="translate(136.20,702.70) rotate(-90) translate(167.32,0) scale(0.9266,1)" font-size="121">E</text>
<text transform="translate(2207.69,165.40) scale(1.1024,1.0000)" font-size="82">ridge</text>
<text transform="translate(2413.64,165.40) scale(0.8775,1.0000)" font-size="82" font-style="italic">δ</text>
<text transform="translate(1729.42,214.00) scale(1.0537,1.0000)" font-size="73">experiment</text>
<text transform="translate(1731.74,315.20) scale(1.0421,1.0000)" font-size="73">train (theory)</text>
<text transform="translate(1731.74,417.50) scale(1.0369,1.0000)" font-size="73">test (theory)</text>
<text transform="translate(1729.60,520.40) scale(1.0578,1.0000)" font-size="73">optimal ridge</text>
</svg>
</body></html>
